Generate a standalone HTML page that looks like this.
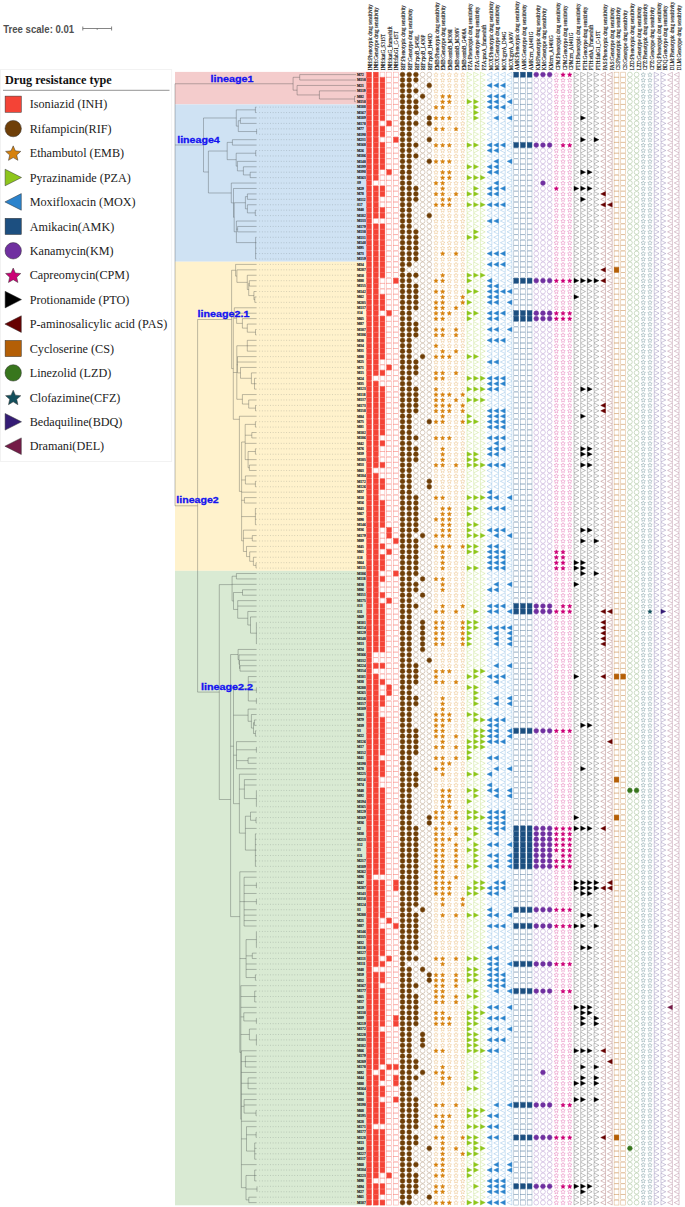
<!DOCTYPE html><html><head><meta charset="utf-8"><style>html,body{margin:0;padding:0;background:#fff;width:685px;height:1207px;overflow:hidden}svg{display:block}</style></head><body>
<svg width="685" height="1207" viewBox="0 0 685 1207">
<text x="3.2" y="32.5" font-family="Liberation Sans" font-weight="bold" font-size="10.4" fill="#505050" textLength="71.0" lengthAdjust="spacingAndGlyphs">Tree scale: 0.01</text>
<g stroke="#666" stroke-width="0.8" fill="none"><path d="M82.8 28.5H111.6M82.8 26.5V30.5M111.6 26.5V30.5M97.2 28.5V29.8"/></g>
<rect x="0.5" y="69.6" width="171.2" height="391.9" fill="#fff" stroke="#efefef" stroke-width="0.8"/>
<text x="5" y="84" font-family="Liberation Serif" font-weight="bold" font-size="12.2" fill="#111">Drug resistance type</text>
<line x1="3" y1="90.3" x2="169.5" y2="90.3" stroke="#777" stroke-width="0.8"/>
<rect x="5.1" y="96.1" width="16.2" height="16.2" fill="#f44336" stroke="#333" stroke-width="0.5"/>
<text x="29.7" y="108.3" font-family="Liberation Serif" font-size="12.2" fill="#222">Isoniazid (INH)</text>
<circle cx="13.2" cy="128.6" r="8.2" fill="#6f3f08" stroke="#333" stroke-width="0.5"/>
<text x="29.7" y="132.7" font-family="Liberation Serif" font-size="12.2" fill="#222">Rifampicin(RIF)</text>
<polygon points="13.20,145.86 15.37,150.87 20.81,151.39 16.72,155.00 17.90,160.33 13.20,157.56 8.50,160.33 9.68,155.00 5.59,151.39 11.03,150.87" fill="#d6820f" stroke="#333" stroke-width="0.5"/>
<text x="29.7" y="157.2" font-family="Liberation Serif" font-size="12.2" fill="#222">Ethambutol (EMB)</text>
<polygon points="5.1,169.2 21.5,177.5 5.1,185.8" fill="#8ec61c" stroke="#333" stroke-width="0.5"/>
<text x="29.7" y="181.6" font-family="Liberation Serif" font-size="12.2" fill="#222">Pyrazinamide (PZA)</text>
<polygon points="21.3,193.6 4.9,201.9 21.3,210.2" fill="#2b83cc" stroke="#333" stroke-width="0.5"/>
<text x="29.7" y="206.0" font-family="Liberation Serif" font-size="12.2" fill="#222">Moxifloxacin (MOX)</text>
<rect x="5.1" y="218.3" width="16.2" height="16.2" fill="#1c4f80" stroke="#333" stroke-width="0.5"/>
<text x="29.7" y="230.5" font-family="Liberation Serif" font-size="12.2" fill="#222">Amikacin(AMK)</text>
<circle cx="13.2" cy="250.8" r="8.2" fill="#7030a0" stroke="#333" stroke-width="0.5"/>
<text x="29.7" y="254.9" font-family="Liberation Serif" font-size="12.2" fill="#222">Kanamycin(KM)</text>
<polygon points="13.20,268.01 15.37,273.02 20.81,273.54 16.72,277.15 17.90,282.48 13.20,279.71 8.50,282.48 9.68,277.15 5.59,273.54 11.03,273.02" fill="#cc0077" stroke="#333" stroke-width="0.5"/>
<text x="29.7" y="279.3" font-family="Liberation Serif" font-size="12.2" fill="#222">Capreomycin(CPM)</text>
<polygon points="5.1,291.3 21.5,299.6 5.1,307.9" fill="#000000" stroke="#333" stroke-width="0.5"/>
<text x="29.7" y="303.7" font-family="Liberation Serif" font-size="12.2" fill="#222">Protionamide (PTO)</text>
<polygon points="21.3,315.8 4.9,324.1 21.3,332.4" fill="#660000" stroke="#333" stroke-width="0.5"/>
<text x="29.7" y="328.2" font-family="Liberation Serif" font-size="12.2" fill="#222">P-aminosalicylic acid (PAS)</text>
<rect x="5.1" y="340.4" width="16.2" height="16.2" fill="#b45f06" stroke="#333" stroke-width="0.5"/>
<text x="29.7" y="352.6" font-family="Liberation Serif" font-size="12.2" fill="#222">Cycloserine (CS)</text>
<circle cx="13.2" cy="372.9" r="8.2" fill="#38761d" stroke="#333" stroke-width="0.5"/>
<text x="29.7" y="377.0" font-family="Liberation Serif" font-size="12.2" fill="#222">Linezolid (LZD)</text>
<polygon points="13.20,390.16 15.37,395.17 20.81,395.69 16.72,399.30 17.90,404.63 13.20,401.86 8.50,404.63 9.68,399.30 5.59,395.69 11.03,395.17" fill="#134f5c" stroke="#333" stroke-width="0.5"/>
<text x="29.7" y="401.5" font-family="Liberation Serif" font-size="12.2" fill="#222">Clofazimine(CFZ)</text>
<polygon points="5.1,413.5 21.5,421.8 5.1,430.1" fill="#351c75" stroke="#333" stroke-width="0.5"/>
<text x="29.7" y="425.9" font-family="Liberation Serif" font-size="12.2" fill="#222">Bedaquiline(BDQ)</text>
<polygon points="21.3,437.9 4.9,446.2 21.3,454.5" fill="#741b47" stroke="#333" stroke-width="0.5"/>
<text x="29.7" y="450.3" font-family="Liberation Serif" font-size="12.2" fill="#222">Dramani(DEL)</text>
<rect x="175" y="71.89" width="191.7" height="32.54" fill="#f4cccc"/>
<rect x="175" y="104.43" width="191.7" height="157.27" fill="#cfe2f3"/>
<rect x="175" y="261.70" width="191.7" height="309.12" fill="#fff2cc"/>
<rect x="175" y="570.81" width="191.7" height="634.50" fill="#d9ead3"/>
<path d="M259.20 107.14H356.50 M259.20 112.56H356.50 M259.20 117.98H356.50 M259.20 123.41H356.50 M259.20 128.83H356.50 M259.20 134.25H356.50 M259.20 139.68H356.50 M259.20 145.10H356.50 M259.20 150.52H356.50 M259.20 155.95H356.50 M259.20 161.37H356.50 M259.20 166.79H356.50 M259.20 172.22H356.50 M259.20 177.64H356.50 M259.20 183.06H356.50 M259.20 188.48H356.50 M259.20 193.91H356.50 M259.20 199.33H356.50 M259.20 204.75H356.50 M259.20 210.18H356.50 M259.20 215.60H356.50 M259.20 221.02H356.50 M259.20 226.45H356.50 M259.20 231.87H356.50 M259.20 237.29H356.50 M259.20 242.72H356.50 M259.20 248.14H356.50 M259.20 253.56H356.50 M259.20 258.98H356.50 M259.20 264.41H356.50 M259.20 269.83H356.50 M259.20 275.25H356.50 M259.20 280.68H356.50 M259.20 286.10H356.50 M259.20 291.52H356.50 M259.20 296.95H356.50 M259.20 302.37H356.50 M259.20 307.79H356.50 M259.20 313.22H356.50 M259.20 318.64H356.50 M259.20 324.06H356.50 M259.20 329.48H356.50 M259.20 334.91H356.50 M259.20 340.33H356.50 M259.20 345.75H356.50 M259.20 351.18H356.50 M259.20 356.60H356.50 M259.20 362.02H356.50 M259.20 367.45H356.50 M259.20 372.87H356.50 M259.20 378.29H356.50 M259.20 383.72H356.50 M259.20 389.14H356.50 M259.20 394.56H356.50 M259.20 399.98H356.50 M259.20 405.41H356.50 M259.20 410.83H356.50 M259.20 416.25H356.50 M259.20 421.68H356.50 M259.20 427.10H356.50 M259.20 432.52H356.50 M259.20 437.95H356.50 M259.20 443.37H356.50 M259.20 448.79H356.50 M259.20 454.22H356.50 M259.20 459.64H356.50 M259.20 465.06H356.50 M259.20 470.48H356.50 M259.20 475.91H356.50 M259.20 481.33H356.50 M259.20 486.75H356.50 M259.20 492.18H356.50 M259.20 497.60H356.50 M259.20 503.02H356.50 M259.20 508.45H356.50 M259.20 513.87H356.50 M259.20 519.29H356.50 M259.20 524.72H356.50 M259.20 530.14H356.50 M259.20 535.56H356.50 M259.20 540.98H356.50 M259.20 546.41H356.50 M259.20 551.83H356.50 M259.20 557.25H356.50 M259.20 562.68H356.50 M259.20 568.10H356.50 M259.20 573.52H356.50 M259.20 578.95H356.50 M259.20 584.37H356.50 M259.20 589.79H356.50 M259.20 595.22H356.50 M259.20 600.64H356.50 M259.20 606.06H356.50 M259.20 611.48H356.50 M259.20 616.91H356.50 M259.20 622.33H356.50 M259.20 627.75H356.50 M259.20 633.18H356.50 M259.20 638.60H356.50 M259.20 644.02H356.50 M259.20 649.45H356.50 M259.20 654.87H356.50 M259.20 660.29H356.50 M259.20 665.72H356.50 M259.20 671.14H356.50 M259.20 676.56H356.50 M259.20 681.98H356.50 M259.20 687.41H356.50 M259.20 692.83H356.50 M259.20 698.25H356.50 M259.20 703.68H356.50 M259.20 709.10H356.50 M259.20 714.52H356.50 M259.20 719.95H356.50 M259.20 725.37H356.50 M259.20 730.79H356.50 M259.20 736.22H356.50 M259.20 741.64H356.50 M259.20 747.06H356.50 M259.20 752.48H356.50 M259.20 757.91H356.50 M259.20 763.33H356.50 M259.20 768.75H356.50 M259.20 774.18H356.50 M259.20 779.60H356.50 M259.20 785.02H356.50 M259.20 790.45H356.50 M259.20 795.87H356.50 M259.20 801.29H356.50 M259.20 806.72H356.50 M259.20 812.14H356.50 M259.20 817.56H356.50 M259.20 822.98H356.50 M259.20 828.41H356.50 M259.20 833.83H356.50 M259.20 839.25H356.50 M259.20 844.68H356.50 M259.20 850.10H356.50 M259.20 855.52H356.50 M259.20 860.95H356.50 M259.20 866.37H356.50 M259.20 871.79H356.50 M259.20 877.22H356.50 M259.20 882.64H356.50 M259.20 888.06H356.50 M259.20 893.48H356.50 M259.20 898.91H356.50 M259.20 904.33H356.50 M259.20 909.75H356.50 M259.20 915.18H356.50 M259.20 920.60H356.50 M259.20 926.02H356.50 M259.20 931.45H356.50 M259.20 936.87H356.50 M259.20 942.29H356.50 M259.20 947.72H356.50 M259.20 953.14H356.50 M259.20 958.56H356.50 M259.20 963.98H356.50 M259.20 969.41H356.50 M259.20 974.83H356.50 M259.20 980.25H356.50 M259.20 985.68H356.50 M259.20 991.10H356.50 M259.20 996.52H356.50 M259.20 1001.95H356.50 M259.20 1007.37H356.50 M259.20 1012.79H356.50 M259.20 1018.22H356.50 M259.20 1023.64H356.50 M259.20 1029.06H356.50 M259.20 1034.48H356.50 M259.20 1039.91H356.50 M259.20 1045.33H356.50 M259.20 1050.75H356.50 M259.20 1056.18H356.50 M259.20 1061.60H356.50 M259.20 1067.02H356.50 M259.20 1072.45H356.50 M259.20 1077.87H356.50 M259.20 1083.29H356.50 M259.20 1088.72H356.50 M259.20 1094.14H356.50 M259.20 1099.56H356.50 M259.20 1104.98H356.50 M259.20 1110.41H356.50 M259.20 1115.83H356.50 M259.20 1121.25H356.50 M259.20 1126.68H356.50 M259.20 1132.10H356.50 M259.20 1137.52H356.50 M259.20 1142.95H356.50 M259.20 1148.37H356.50 M259.20 1153.79H356.50 M259.20 1159.22H356.50 M259.20 1164.64H356.50 M259.20 1170.06H356.50 M259.20 1175.48H356.50 M259.20 1180.91H356.50 M259.20 1186.33H356.50 M259.20 1191.75H356.50 M259.20 1197.18H356.50 M259.20 1202.60H356.50" stroke="#556060" stroke-width="0.8" stroke-dasharray="0.9 1.8" fill="none" opacity="0.33"/>
<path d="M299.70 74.60H356.00 M299.70 80.02H356.00 M299.70 74.60V80.02 M293.10 77.31H299.70 M297.10 85.45H356.00 M319.40 90.87H356.00 M354.50 96.29H356.00 M354.50 101.72H356.00 M354.50 96.29V101.72 M319.40 99.00H354.50 M319.40 90.87V99.00 M297.10 94.94H319.40 M297.10 85.45V94.94 M293.10 90.19H297.10 M293.10 77.31V90.19 M175.00 83.75H293.10 M255.40 107.14H256.60 M255.40 112.56H256.60 M255.40 107.14V112.56 M236.30 109.85H255.40 M240.40 117.98H256.60 M240.40 123.41H256.60 M240.40 117.98V123.41 M238.30 120.70H240.40 M256.60 128.83V134.25 M238.30 131.54H256.60 M238.30 120.70V131.54 M236.30 126.12H238.30 M236.30 109.85V126.12 M203.50 117.98H236.30 M232.40 139.68H256.60 M232.40 145.10H256.60 M232.40 139.68V145.10 M227.20 142.39H232.40 M255.70 150.52H256.60 M255.70 155.95H256.60 M255.70 150.52V155.95 M236.20 153.23H255.70 M237.40 161.37H256.60 M243.40 166.79H256.60 M250.20 172.22H256.60 M250.20 177.64H256.60 M250.20 172.22V177.64 M243.40 174.93H250.20 M243.40 166.79V174.93 M237.40 170.86H243.40 M237.40 161.37V170.86 M236.20 166.11H237.40 M236.20 153.23V166.11 M227.20 159.67H236.20 M227.20 142.39V159.67 M208.40 151.03H227.20 M231.30 183.06H256.60 M233.50 188.48H256.60 M247.40 193.91H256.60 M247.40 199.33H256.60 M247.40 193.91V199.33 M245.40 196.62H247.40 M247.40 204.75H256.60 M255.30 210.18H256.60 M255.30 215.60H256.60 M255.30 210.18V215.60 M247.40 212.89H255.30 M247.40 204.75V212.89 M245.40 208.82H247.40 M245.40 196.62V208.82 M234.20 202.72H245.40 M236.40 221.02H256.60 M237.60 226.45H256.60 M237.60 231.87H256.60 M237.60 226.45V231.87 M236.40 229.16H237.60 M255.60 237.29H256.60 M255.60 242.72H256.60 M255.60 248.14H256.60 M255.60 253.56H256.60 M255.60 258.98H256.60 M255.60 237.29V258.98 M236.40 242.60H255.60 M236.40 221.02V242.60 M234.20 231.81H236.40 M234.20 202.72V231.81 M233.50 217.27H234.20 M233.50 188.48V217.27 M231.30 202.88H233.50 M231.30 183.06V202.88 M208.40 192.97H231.30 M208.40 151.03V192.97 M203.50 172.00H208.40 M203.50 117.98V172.00 M175.00 144.99H203.50 M235.60 264.41H256.60 M236.90 269.83H256.60 M247.30 275.25H256.60 M249.30 280.68H256.60 M249.30 286.10H256.60 M249.30 280.68V286.10 M248.70 283.39H249.30 M253.90 291.52H256.60 M254.80 296.95H256.60 M254.80 302.37H256.60 M254.80 296.95V302.37 M253.90 299.66H254.80 M253.90 291.52V299.66 M248.70 295.59H253.90 M248.70 283.39V295.59 M247.30 289.49H248.70 M247.30 275.25V289.49 M236.90 282.37H247.30 M236.90 269.83V282.37 M235.60 276.10H236.90 M235.60 264.41V276.10 M231.60 270.25H235.60 M234.30 307.79H256.60 M236.60 313.22H256.60 M242.40 318.64H256.60 M247.30 324.06H256.60 M255.50 329.48H256.60 M255.50 334.91H256.60 M255.50 329.48V334.91 M247.30 332.20H255.50 M247.30 324.06V332.20 M242.40 328.13H247.30 M242.40 318.64V328.13 M236.60 323.38H242.40 M236.60 313.22V323.38 M234.30 318.30H236.60 M234.30 307.79V318.30 M233.30 313.05H234.30 M247.30 340.33H256.60 M247.30 345.75H256.60 M247.30 351.18H256.60 M247.30 340.33V351.18 M236.80 345.75H247.30 M237.50 356.60H256.60 M237.50 362.02H256.60 M240.50 367.45H256.60 M251.40 372.87H256.60 M254.50 378.29H256.60 M254.50 383.72H256.60 M254.50 389.14H256.60 M254.50 378.29V389.14 M251.40 383.72H254.50 M251.40 372.87V383.72 M240.50 378.29H251.40 M240.50 367.45V378.29 M237.50 372.87H240.50 M237.50 356.60V372.87 M236.80 364.73H237.50 M242.40 394.56H256.60 M248.70 399.98H256.60 M255.50 405.41H256.60 M255.50 410.83H256.60 M255.50 405.41V410.83 M248.70 408.12H255.50 M248.70 399.98V408.12 M242.40 404.05H248.70 M242.40 394.56V404.05 M236.80 399.31H242.40 M236.80 345.75V399.31 M233.30 372.53H236.80 M239.40 416.25H256.60 M255.40 421.68H256.60 M255.40 427.10H256.60 M255.40 421.68V427.10 M245.20 424.39H255.40 M251.80 432.52H256.60 M251.80 437.95H256.60 M251.80 432.52V437.95 M245.20 435.23H251.80 M245.20 443.37H256.60 M255.40 448.79H256.60 M255.40 454.22H256.60 M255.40 448.79V454.22 M248.10 451.50H255.40 M248.10 459.64H256.60 M249.40 465.06H256.60 M249.40 470.48H256.60 M249.40 465.06V470.48 M248.10 467.77H249.40 M248.10 451.50V467.77 M245.20 459.64H248.10 M245.20 424.39V459.64 M241.60 442.01H245.20 M245.40 475.91H256.60 M255.40 481.33H256.60 M255.40 486.75H256.60 M255.40 481.33V486.75 M245.40 484.04H255.40 M245.40 475.91V484.04 M241.60 479.98H245.40 M241.60 492.18H256.60 M244.40 497.60H256.60 M244.40 503.02H256.60 M244.40 497.60V503.02 M241.60 500.31H244.40 M255.40 508.45H256.60 M255.40 513.87H256.60 M255.40 519.29H256.60 M255.40 524.72H256.60 M255.40 508.45V524.72 M244.10 516.58H255.40 M241.60 516.58H244.10 M243.40 530.14H256.60 M252.30 535.56H256.60 M252.30 540.98H256.60 M252.30 535.56V540.98 M243.40 538.27H252.30 M246.50 546.41H256.60 M249.70 551.83H256.60 M253.40 557.25H256.60 M256.00 562.68H256.60 M256.00 568.10H256.60 M256.00 562.68V568.10 M253.40 565.39H256.00 M253.40 557.25V565.39 M249.70 561.32H253.40 M249.70 551.83V561.32 M246.50 556.58H249.70 M246.50 546.41V556.58 M243.40 551.49H246.50 M243.40 530.14V551.49 M241.60 540.82H243.40 M241.60 442.01V540.82 M239.40 491.41H241.60 M239.40 416.25V491.41 M233.30 419.30H239.40 M233.30 313.05V419.30 M231.60 368.60H233.30 M231.60 270.25V368.60 M197.60 319.50H231.60 M236.40 573.52H256.60 M236.40 578.95H256.60 M236.40 573.52V578.95 M232.10 576.23H236.40 M232.10 584.37H256.60 M242.50 589.79H256.60 M242.50 595.22H256.60 M242.50 589.79V595.22 M233.50 592.50H242.50 M237.70 600.64H256.60 M237.70 606.06H256.60 M247.80 611.48H256.60 M250.50 616.91H256.60 M256.40 622.33H256.60 M256.40 627.75H256.60 M256.40 633.18H256.60 M256.40 638.60H256.60 M256.40 644.02H256.60 M256.40 622.33V644.02 M250.50 633.18H256.40 M250.50 616.91V633.18 M247.80 625.04H250.50 M247.80 611.48V625.04 M237.70 618.26H247.80 M237.70 600.64V618.26 M233.50 609.45H237.70 M233.50 592.50V609.45 M232.10 600.98H233.50 M232.10 576.23V600.98 M219.30 584.60H232.10 M238.10 649.45H256.60 M239.00 654.87H256.60 M239.50 660.29H256.60 M240.00 665.72H256.60 M240.00 671.14H256.60 M240.00 665.72V671.14 M239.50 668.43H240.00 M239.50 660.29V668.43 M239.00 664.36H239.50 M239.00 654.87V664.36 M238.10 659.61H239.00 M238.10 649.45V659.61 M230.60 654.53H238.10 M248.30 676.56H256.60 M248.30 681.98H256.60 M256.40 687.41H256.60 M256.40 692.83H256.60 M256.40 687.41V692.83 M248.30 690.12H256.40 M256.40 698.25H256.60 M256.40 703.68H256.60 M256.40 698.25V703.68 M248.30 700.97H256.40 M248.30 676.56V700.97 M233.50 688.76H248.30 M248.10 709.10H256.60 M251.40 714.52H256.60 M254.40 719.95H256.60 M254.40 725.37H256.60 M254.40 719.95V725.37 M253.50 722.66H254.40 M255.40 730.79H256.60 M255.40 736.22H256.60 M255.40 730.79V736.22 M253.50 733.50H255.40 M253.50 722.66V733.50 M251.40 728.08H253.50 M251.40 714.52V728.08 M248.10 721.30H251.40 M248.10 709.10V721.30 M233.50 715.20H248.10 M236.50 741.64H256.60 M256.40 747.06H256.60 M256.40 752.48H256.60 M256.40 747.06V752.48 M236.50 749.77H256.40 M248.10 757.91H256.60 M248.10 763.33H256.60 M248.10 757.91V763.33 M236.50 760.62H248.10 M236.50 768.75H256.60 M236.50 741.64V768.75 M233.50 755.20H236.50 M239.40 774.18H256.60 M244.40 779.60H256.60 M244.40 785.02H256.60 M256.40 790.45H256.60 M256.40 795.87H256.60 M256.40 801.29H256.60 M256.40 806.72H256.60 M256.40 790.45V806.72 M244.40 798.58H256.40 M244.40 779.60V798.58 M239.40 789.09H244.40 M250.50 812.14H256.60 M256.00 817.56H256.60 M256.00 822.98H256.60 M256.00 817.56V822.98 M250.50 820.27H256.00 M250.50 812.14V820.27 M245.40 816.21H250.50 M245.40 828.41H256.60 M255.40 833.83H256.60 M255.40 839.25H256.60 M255.40 844.68H256.60 M255.40 850.10H256.60 M255.40 855.52H256.60 M255.40 860.95H256.60 M255.40 866.37H256.60 M255.40 833.83V866.37 M245.40 850.10H255.40 M245.40 816.21V850.10 M239.40 833.15H245.40 M239.40 774.18V833.15 M233.50 803.66H239.40 M233.50 688.76V803.66 M230.60 746.21H233.50 M239.80 871.79H256.60 M244.10 877.22H256.60 M256.40 882.64H256.60 M256.40 888.06H256.60 M256.40 882.64V888.06 M244.10 885.35H256.40 M244.10 893.48H256.60 M256.40 898.91H256.60 M256.40 904.33H256.60 M256.40 898.91V904.33 M244.10 901.62H256.40 M244.10 909.75H256.60 M244.10 915.18H256.60 M244.10 920.60H256.60 M244.10 926.02H256.60 M244.10 877.22V926.02 M239.80 901.62H244.10 M256.40 931.45H256.60 M256.40 936.87H256.60 M256.40 942.29H256.60 M256.40 947.72H256.60 M256.40 931.45V947.72 M246.10 939.58H256.40 M252.30 953.14H256.60 M252.30 958.56H256.60 M252.30 953.14V958.56 M246.10 955.85H252.30 M246.10 963.98H256.60 M246.10 969.41H256.60 M255.40 974.83H256.60 M255.40 980.25H256.60 M255.40 974.83V980.25 M246.10 977.54H255.40 M246.10 939.58V977.54 M239.80 958.56H246.10 M240.80 985.68H256.60 M254.70 991.10H256.60 M254.70 996.52H256.60 M254.70 1001.95H256.60 M254.70 991.10V1001.95 M240.80 996.52H254.70 M240.80 1007.37H256.60 M243.80 1012.79H256.60 M256.40 1018.22H256.60 M256.40 1023.64H256.60 M256.40 1018.22V1023.64 M243.80 1020.93H256.40 M243.80 1012.79V1020.93 M240.80 1016.86H243.80 M249.40 1029.06H256.60 M256.40 1034.48H256.60 M256.40 1039.91H256.60 M256.40 1045.33H256.60 M256.40 1034.48V1045.33 M249.40 1039.91H256.40 M249.40 1029.06V1039.91 M240.80 1034.48H249.40 M241.40 1050.75H256.60 M245.40 1056.18H256.60 M245.40 1061.60H256.60 M245.40 1067.02H256.60 M245.40 1056.18V1067.02 M241.40 1061.60H245.40 M241.40 1072.45H256.60 M248.10 1077.87H256.60 M248.10 1083.29H256.60 M248.10 1088.72H256.60 M248.10 1077.87V1088.72 M241.40 1083.29H248.10 M241.40 1094.14H256.60 M244.10 1099.56H256.60 M244.10 1104.98H256.60 M256.00 1110.41H256.60 M256.00 1115.83H256.60 M256.00 1110.41V1115.83 M244.10 1113.12H256.00 M244.10 1099.56V1113.12 M241.40 1106.34H244.10 M241.40 1121.25H256.60 M246.50 1126.68H256.60 M256.10 1132.10H256.60 M256.10 1137.52H256.60 M256.10 1132.10V1137.52 M246.50 1134.81H256.10 M254.70 1142.95H256.60 M254.70 1148.37H256.60 M254.70 1153.79H256.60 M254.70 1159.22H256.60 M254.70 1142.95V1159.22 M246.50 1151.08H254.70 M246.50 1126.68V1151.08 M241.40 1138.88H246.50 M241.40 1164.64H256.60 M254.70 1170.06H256.60 M254.70 1175.48H256.60 M254.70 1180.91H256.60 M254.70 1170.06V1180.91 M246.00 1175.48H254.70 M257.00 1186.33V1191.75 M246.00 1189.04H257.00 M248.80 1197.18H256.60 M248.80 1202.60H256.60 M248.80 1197.18V1202.60 M246.00 1199.89H248.80 M246.00 1175.48V1199.89 M241.40 1187.69H246.00 M241.40 1050.75V1187.69 M240.80 1119.22H241.40 M240.80 985.68V1119.22 M239.80 1052.45H240.80 M239.80 871.79V1052.45 M230.60 916.60H239.80 M230.60 654.53V916.60 M219.30 799.50H230.60 M219.30 584.60V799.50 M197.60 692.10H219.30 M197.6 319.50V692.10 M175 505.80H197.6 M175 83.75V505.80" stroke="#3a4040" stroke-width="0.75" fill="none" stroke-opacity="0.44"/>
<text x="210.5" y="82.1" font-family="Liberation Sans" font-weight="bold" font-size="9.8" fill="#1414f0" stroke="#1414f0" stroke-width="0.3" textLength="43.0" lengthAdjust="spacingAndGlyphs">lineage1</text>
<text x="177.2" y="143.0" font-family="Liberation Sans" font-weight="bold" font-size="9.8" fill="#1414f0" stroke="#1414f0" stroke-width="0.3" textLength="42.6" lengthAdjust="spacingAndGlyphs">lineage4</text>
<text x="197.5" y="316.6" font-family="Liberation Sans" font-weight="bold" font-size="9.8" fill="#1414f0" stroke="#1414f0" stroke-width="0.3" textLength="51.900000000000006" lengthAdjust="spacingAndGlyphs">lineage2.1</text>
<text x="176.3" y="503.0" font-family="Liberation Sans" font-weight="bold" font-size="9.8" fill="#1414f0" stroke="#1414f0" stroke-width="0.3" textLength="42.400000000000006" lengthAdjust="spacingAndGlyphs">lineage2</text>
<text x="201.0" y="690.2" font-family="Liberation Sans" font-weight="bold" font-size="9.8" fill="#1414f0" stroke="#1414f0" stroke-width="0.3" textLength="52.1" lengthAdjust="spacingAndGlyphs">lineage2.2</text>
<g font-family="Liberation Serif" font-weight="bold" font-size="3.6" fill="#111" stroke="#111" stroke-width="0.12">
<text x="356.9" y="75.85">M72</text>
<text x="356.9" y="81.27">M150</text>
<text x="356.9" y="86.70">M21</text>
<text x="356.9" y="92.12">M119</text>
<text x="356.9" y="97.54">M82</text>
<text x="356.9" y="102.97">M158</text>
<text x="356.9" y="108.39">M188</text>
<text x="356.9" y="113.81">M167</text>
<text x="356.9" y="119.23">M189</text>
<text x="356.9" y="124.66">M178</text>
<text x="356.9" y="130.08">M77</text>
<text x="356.9" y="135.50">M198</text>
<text x="356.9" y="140.93">M231</text>
<text x="356.9" y="146.35">M160</text>
<text x="356.9" y="151.77">M26</text>
<text x="356.9" y="157.20">M186</text>
<text x="356.9" y="162.62">M140</text>
<text x="356.9" y="168.04">M199</text>
<text x="356.9" y="173.47">M398</text>
<text x="356.9" y="178.89">M163</text>
<text x="356.9" y="184.31">S9</text>
<text x="356.9" y="189.73">M29</text>
<text x="356.9" y="195.16">M78</text>
<text x="356.9" y="200.58">M112</text>
<text x="356.9" y="206.00">S17</text>
<text x="356.9" y="211.43">M40</text>
<text x="356.9" y="216.85">M182</text>
<text x="356.9" y="222.27">M133</text>
<text x="356.9" y="227.70">M179</text>
<text x="356.9" y="233.12">M130</text>
<text x="356.9" y="238.54">M131</text>
<text x="356.9" y="243.97">M148</text>
<text x="356.9" y="249.39">M95</text>
<text x="356.9" y="254.81">M73</text>
<text x="356.9" y="260.23">M159</text>
<text x="356.9" y="265.66">M34</text>
<text x="356.9" y="271.08">M207</text>
<text x="356.9" y="276.50">M58</text>
<text x="356.9" y="281.93">M88</text>
<text x="356.9" y="287.35">M155</text>
<text x="356.9" y="292.77">M142</text>
<text x="356.9" y="298.20">M62</text>
<text x="356.9" y="303.62">M205</text>
<text x="356.9" y="309.04">M137</text>
<text x="356.9" y="314.47">S14</text>
<text x="356.9" y="319.89">M65</text>
<text x="356.9" y="325.31">M87</text>
<text x="356.9" y="330.73">M107</text>
<text x="356.9" y="336.16">M186</text>
<text x="356.9" y="341.58">M30</text>
<text x="356.9" y="347.00">M34</text>
<text x="356.9" y="352.43">M31</text>
<text x="356.9" y="357.85">M80</text>
<text x="356.9" y="363.27">M25</text>
<text x="356.9" y="368.70">M71</text>
<text x="356.9" y="374.12">M15</text>
<text x="356.9" y="379.54">M24</text>
<text x="356.9" y="384.97">M35</text>
<text x="356.9" y="390.39">M123</text>
<text x="356.9" y="395.81">M118</text>
<text x="356.9" y="401.23">M137</text>
<text x="356.9" y="406.66">M173</text>
<text x="356.9" y="412.08">M158</text>
<text x="356.9" y="417.50">M84</text>
<text x="356.9" y="422.93">M75</text>
<text x="356.9" y="428.35">M81</text>
<text x="356.9" y="433.77">M102</text>
<text x="356.9" y="439.20">M106</text>
<text x="356.9" y="444.62">M42</text>
<text x="356.9" y="450.04">M76</text>
<text x="356.9" y="455.47">M39</text>
<text x="356.9" y="460.89">M105</text>
<text x="356.9" y="466.31">M53</text>
<text x="356.9" y="471.73">M63</text>
<text x="356.9" y="477.16">M184</text>
<text x="356.9" y="482.58">M172</text>
<text x="356.9" y="488.00">M126</text>
<text x="356.9" y="493.43">M37</text>
<text x="356.9" y="498.85">M18</text>
<text x="356.9" y="504.27">M56</text>
<text x="356.9" y="509.70">M43</text>
<text x="356.9" y="515.12">M67</text>
<text x="356.9" y="520.54">M90</text>
<text x="356.9" y="525.97">M146</text>
<text x="356.9" y="531.39">M36</text>
<text x="356.9" y="536.81">M179</text>
<text x="356.9" y="542.23">M89</text>
<text x="356.9" y="547.66">M45</text>
<text x="356.9" y="553.08">M61</text>
<text x="356.9" y="558.50">S18</text>
<text x="356.9" y="563.93">M64</text>
<text x="356.9" y="569.35">M115</text>
<text x="356.9" y="574.77">M186</text>
<text x="356.9" y="580.20">M118</text>
<text x="356.9" y="585.62">M30</text>
<text x="356.9" y="591.04">M86</text>
<text x="356.9" y="596.47">M151</text>
<text x="356.9" y="601.89">M175</text>
<text x="356.9" y="607.31">S13</text>
<text x="356.9" y="612.73">S11</text>
<text x="356.9" y="618.16">M69</text>
<text x="356.9" y="623.58">M181</text>
<text x="356.9" y="629.00">M214</text>
<text x="356.9" y="634.43">M129</text>
<text x="356.9" y="639.85">M148</text>
<text x="356.9" y="645.27">M13</text>
<text x="356.9" y="650.70">M34</text>
<text x="356.9" y="656.12">M166</text>
<text x="356.9" y="661.54">M132</text>
<text x="356.9" y="666.97">M224</text>
<text x="356.9" y="672.39">M154</text>
<text x="356.9" y="677.81">M181</text>
<text x="356.9" y="683.23">M38</text>
<text x="356.9" y="688.66">M208</text>
<text x="356.9" y="694.08">M265</text>
<text x="356.9" y="699.50">M156</text>
<text x="356.9" y="704.93">M157</text>
<text x="356.9" y="710.35">M189</text>
<text x="356.9" y="715.77">M63</text>
<text x="356.9" y="721.20">M79</text>
<text x="356.9" y="726.62">M39</text>
<text x="356.9" y="732.04">S3</text>
<text x="356.9" y="737.47">M22</text>
<text x="356.9" y="742.89">M126</text>
<text x="356.9" y="748.31">M17</text>
<text x="356.9" y="753.73">M152</text>
<text x="356.9" y="759.16">M41</text>
<text x="356.9" y="764.58">M190</text>
<text x="356.9" y="770.00">M78</text>
<text x="356.9" y="775.43">M225</text>
<text x="356.9" y="780.85">M114</text>
<text x="356.9" y="786.27">M74</text>
<text x="356.9" y="791.70">M48</text>
<text x="356.9" y="797.12">M92</text>
<text x="356.9" y="802.54">M194</text>
<text x="356.9" y="807.97">M165</text>
<text x="356.9" y="813.39">M129</text>
<text x="356.9" y="818.81">M169</text>
<text x="356.9" y="824.23">M36</text>
<text x="356.9" y="829.66">S2</text>
<text x="356.9" y="835.08">M38</text>
<text x="356.9" y="840.50">M213</text>
<text x="356.9" y="845.93">S12</text>
<text x="356.9" y="851.35">S5</text>
<text x="356.9" y="856.77">S11</text>
<text x="356.9" y="862.20">M217</text>
<text x="356.9" y="867.62">M189</text>
<text x="356.9" y="873.04">M262</text>
<text x="356.9" y="878.47">M96</text>
<text x="356.9" y="883.89">M47</text>
<text x="356.9" y="889.31">M207</text>
<text x="356.9" y="894.73">M143</text>
<text x="356.9" y="900.16">M158</text>
<text x="356.9" y="905.58">M124</text>
<text x="356.9" y="911.00">S1</text>
<text x="356.9" y="916.43">M208</text>
<text x="356.9" y="921.85">M21</text>
<text x="356.9" y="927.27">M87</text>
<text x="356.9" y="932.70">M146</text>
<text x="356.9" y="938.12">M135</text>
<text x="356.9" y="943.54">M32</text>
<text x="356.9" y="948.97">M110</text>
<text x="356.9" y="954.39">M127</text>
<text x="356.9" y="959.81">M113</text>
<text x="356.9" y="965.23">M111</text>
<text x="356.9" y="970.66">M48</text>
<text x="356.9" y="976.08">M59</text>
<text x="356.9" y="981.50">M52</text>
<text x="356.9" y="986.93">M167</text>
<text x="356.9" y="992.35">M177</text>
<text x="356.9" y="997.77">M65</text>
<text x="356.9" y="1003.20">M57</text>
<text x="356.9" y="1008.62">M19</text>
<text x="356.9" y="1014.04">M138</text>
<text x="356.9" y="1019.47">M89</text>
<text x="356.9" y="1024.89">M219</text>
<text x="356.9" y="1030.31">M172</text>
<text x="356.9" y="1035.73">M220</text>
<text x="356.9" y="1041.16">M185</text>
<text x="356.9" y="1046.58">M182</text>
<text x="356.9" y="1052.00">M66</text>
<text x="356.9" y="1057.43">M179</text>
<text x="356.9" y="1062.85">M209</text>
<text x="356.9" y="1068.27">M170</text>
<text x="356.9" y="1073.70">M92</text>
<text x="356.9" y="1079.12">M44</text>
<text x="356.9" y="1084.54">M88</text>
<text x="356.9" y="1089.97">M164</text>
<text x="356.9" y="1095.39">M84</text>
<text x="356.9" y="1100.81">M88</text>
<text x="356.9" y="1106.23">M198</text>
<text x="356.9" y="1111.66">M68</text>
<text x="356.9" y="1117.08">M195</text>
<text x="356.9" y="1122.50">M28</text>
<text x="356.9" y="1127.93">M171</text>
<text x="356.9" y="1133.35">M177</text>
<text x="356.9" y="1138.77">M128</text>
<text x="356.9" y="1144.20">M13</text>
<text x="356.9" y="1149.62">M49</text>
<text x="356.9" y="1155.04">M227</text>
<text x="356.9" y="1160.47">M117</text>
<text x="356.9" y="1165.89">M68</text>
<text x="356.9" y="1171.31">M184</text>
<text x="356.9" y="1176.73">M223</text>
<text x="356.9" y="1182.16">M98</text>
<text x="356.9" y="1187.58">M94</text>
<text x="356.9" y="1193.00">M27</text>
<text x="356.9" y="1198.43">M61</text>
<text x="356.9" y="1203.85">M187</text>
</g>
<g font-family="Liberation Serif" font-size="5.1" fill="#111" stroke="#111" stroke-width="0.15">
<text transform="translate(371.50,70.3) rotate(-90)">INH:Phenotypic drug sensitivity</text>
<text transform="translate(378.23,70.3) rotate(-90)">INH:Genotype drug sensitivity</text>
<text transform="translate(384.95,70.3) rotate(-90)">INH:katG_S315T</text>
<text transform="translate(391.68,70.3) rotate(-90)">INH:katG_frameshift</text>
<text transform="translate(398.40,70.3) rotate(-90)">INH:fabG1_C-15T</text>
<text transform="translate(405.13,70.3) rotate(-90)">RIF:Phenotypic drug sensitivity</text>
<text transform="translate(411.86,70.3) rotate(-90)">RIF:Genotype drug sensitivity</text>
<text transform="translate(418.58,70.3) rotate(-90)">RIF:rpoB_S450L</text>
<text transform="translate(425.31,70.3) rotate(-90)">RIF:rpoB_L430P</text>
<text transform="translate(432.03,70.3) rotate(-90)">RIF:rpoB_H445D</text>
<text transform="translate(438.76,70.3) rotate(-90)">EMB:Phenotypic drug sensitivity</text>
<text transform="translate(445.49,70.3) rotate(-90)">EMB:Genotype drug sensitivity</text>
<text transform="translate(452.21,70.3) rotate(-90)">EMB:embB_M306I</text>
<text transform="translate(458.94,70.3) rotate(-90)">EMB:embB_M306V</text>
<text transform="translate(465.66,70.3) rotate(-90)">EMB:embB_G406A</text>
<text transform="translate(472.39,70.3) rotate(-90)">PZA:Phenotypic drug sensitivity</text>
<text transform="translate(479.12,70.3) rotate(-90)">PZA:Genotype drug sensitivity</text>
<text transform="translate(485.84,70.3) rotate(-90)">PZA:pncA_frameshift</text>
<text transform="translate(492.57,70.3) rotate(-90)">MOX:Phenotypic drug sensitivity</text>
<text transform="translate(499.29,70.3) rotate(-90)">MOX:Genotype drug sensitivity</text>
<text transform="translate(506.02,70.3) rotate(-90)">MOX:gyrA_D94G</text>
<text transform="translate(512.75,70.3) rotate(-90)">MOX:gyrA_A90V</text>
<text transform="translate(519.47,70.3) rotate(-90)">AMK:Phenotypic drug sensitivity</text>
<text transform="translate(526.20,70.3) rotate(-90)">AMK:Genotype drug sensitivity</text>
<text transform="translate(532.92,70.3) rotate(-90)">AMK:rrs_A1401G</text>
<text transform="translate(539.65,70.3) rotate(-90)">KM:Phenotypic drug sensitivity</text>
<text transform="translate(546.38,70.3) rotate(-90)">KM:Genotype drug sensitivity</text>
<text transform="translate(553.10,70.3) rotate(-90)">KM:rrs_A1401G</text>
<text transform="translate(559.83,70.3) rotate(-90)">CPM:Phenotypic drug sensitivity</text>
<text transform="translate(566.55,70.3) rotate(-90)">CPM:Genotype drug sensitivity</text>
<text transform="translate(573.28,70.3) rotate(-90)">CPM:rrs_A1401G</text>
<text transform="translate(580.01,70.3) rotate(-90)">PTH:Phenotypic drug sensitivity</text>
<text transform="translate(586.73,70.3) rotate(-90)">PTH:Genotype drug sensitivity</text>
<text transform="translate(593.46,70.3) rotate(-90)">PTH:ethA_Frameshift</text>
<text transform="translate(600.18,70.3) rotate(-90)">PTH:fabG1_C-15T</text>
<text transform="translate(606.91,70.3) rotate(-90)">PAS:Phenotypic drug sensitivity</text>
<text transform="translate(613.64,70.3) rotate(-90)">PAS:Genotype drug sensitivity</text>
<text transform="translate(620.36,70.3) rotate(-90)">CS:Phenotypic drug sensitivity</text>
<text transform="translate(627.09,70.3) rotate(-90)">CS:Genotype drug sensitivity</text>
<text transform="translate(633.81,70.3) rotate(-90)">LZD:Phenotypic drug sensitivity</text>
<text transform="translate(640.54,70.3) rotate(-90)">LZD:Genotype drug sensitivity</text>
<text transform="translate(647.27,70.3) rotate(-90)">CFZ:Phenotypic drug sensitivity</text>
<text transform="translate(653.99,70.3) rotate(-90)">CFZ:Genotype drug sensitivity</text>
<text transform="translate(660.72,70.3) rotate(-90)">BDQ:Phenotypic drug sensitivity</text>
<text transform="translate(667.44,70.3) rotate(-90)">BDQ:Genotype drug sensitivity</text>
<text transform="translate(674.17,70.3) rotate(-90)">DLM:Phenotypic drug sensitivity</text>
<text transform="translate(680.90,70.3) rotate(-90)">DLM:Genotype drug sensitivity</text>
</g>
<defs><g id="e0"><rect x="-2.40" y="-2.45" width="4.8" height="4.9" fill="#fff" stroke="#f44336" stroke-opacity="0.55" stroke-width="0.45"/></g><g id="f0"><rect x="-2.40" y="-2.45" width="4.8" height="4.9" fill="#f44336" stroke="#f44336" stroke-width="0.3"/></g><g id="e1"><rect x="-2.40" y="-2.45" width="4.8" height="4.9" fill="#fff" stroke="#f44336" stroke-opacity="0.55" stroke-width="0.45"/></g><g id="f1"><rect x="-2.40" y="-2.45" width="4.8" height="4.9" fill="#f44336" stroke="#f44336" stroke-width="0.3"/></g><g id="e2"><rect x="-2.40" y="-2.45" width="4.8" height="4.9" fill="#fff" stroke="#f44336" stroke-opacity="0.55" stroke-width="0.45"/></g><g id="f2"><rect x="-2.40" y="-2.45" width="4.8" height="4.9" fill="#f44336" stroke="#f44336" stroke-width="0.3"/></g><g id="e3"><rect x="-2.40" y="-2.45" width="4.8" height="4.9" fill="#fff" stroke="#f44336" stroke-opacity="0.55" stroke-width="0.45"/></g><g id="f3"><rect x="-2.40" y="-2.45" width="4.8" height="4.9" fill="#f44336" stroke="#f44336" stroke-width="0.3"/></g><g id="e4"><rect x="-2.40" y="-2.45" width="4.8" height="4.9" fill="#fff" stroke="#f44336" stroke-opacity="0.55" stroke-width="0.45"/></g><g id="f4"><rect x="-2.40" y="-2.45" width="4.8" height="4.9" fill="#f44336" stroke="#f44336" stroke-width="0.3"/></g><g id="e5"><circle cx="0.00" cy="0.00" r="2.4" fill="#fff" stroke="#6f3f08" stroke-opacity="0.55" stroke-width="0.45"/></g><g id="f5"><circle cx="0.00" cy="0.00" r="2.4" fill="#6f3f08" stroke="#6f3f08" stroke-width="0.3"/></g><g id="e6"><circle cx="0.00" cy="0.00" r="2.4" fill="#fff" stroke="#6f3f08" stroke-opacity="0.55" stroke-width="0.45"/></g><g id="f6"><circle cx="0.00" cy="0.00" r="2.4" fill="#6f3f08" stroke="#6f3f08" stroke-width="0.3"/></g><g id="e7"><circle cx="0.00" cy="0.00" r="2.4" fill="#fff" stroke="#6f3f08" stroke-opacity="0.55" stroke-width="0.45"/></g><g id="f7"><circle cx="0.00" cy="0.00" r="2.4" fill="#6f3f08" stroke="#6f3f08" stroke-width="0.3"/></g><g id="e8"><circle cx="0.00" cy="0.00" r="2.4" fill="#fff" stroke="#6f3f08" stroke-opacity="0.55" stroke-width="0.45"/></g><g id="f8"><circle cx="0.00" cy="0.00" r="2.4" fill="#6f3f08" stroke="#6f3f08" stroke-width="0.3"/></g><g id="e9"><circle cx="0.00" cy="0.00" r="2.4" fill="#fff" stroke="#6f3f08" stroke-opacity="0.55" stroke-width="0.45"/></g><g id="f9"><circle cx="0.00" cy="0.00" r="2.4" fill="#6f3f08" stroke="#6f3f08" stroke-width="0.3"/></g><g id="e10"><polygon points="0.00,-2.15 0.65,-0.69 2.23,-0.53 1.05,0.54 1.38,2.10 0.00,1.30 -1.38,2.10 -1.05,0.54 -2.23,-0.53 -0.65,-0.69" fill="#fff" stroke="#d6820f" stroke-opacity="0.55" stroke-width="0.45"/></g><g id="f10"><polygon points="0.00,-2.15 0.65,-0.69 2.23,-0.53 1.05,0.54 1.38,2.10 0.00,1.30 -1.38,2.10 -1.05,0.54 -2.23,-0.53 -0.65,-0.69" fill="#d6820f" stroke="#d6820f" stroke-width="0.3"/></g><g id="e11"><polygon points="0.00,-2.15 0.65,-0.69 2.23,-0.53 1.05,0.54 1.38,2.10 0.00,1.30 -1.38,2.10 -1.05,0.54 -2.23,-0.53 -0.65,-0.69" fill="#fff" stroke="#d6820f" stroke-opacity="0.55" stroke-width="0.45"/></g><g id="f11"><polygon points="0.00,-2.15 0.65,-0.69 2.23,-0.53 1.05,0.54 1.38,2.10 0.00,1.30 -1.38,2.10 -1.05,0.54 -2.23,-0.53 -0.65,-0.69" fill="#d6820f" stroke="#d6820f" stroke-width="0.3"/></g><g id="e12"><polygon points="0.00,-2.15 0.65,-0.69 2.23,-0.53 1.05,0.54 1.38,2.10 0.00,1.30 -1.38,2.10 -1.05,0.54 -2.23,-0.53 -0.65,-0.69" fill="#fff" stroke="#d6820f" stroke-opacity="0.55" stroke-width="0.45"/></g><g id="f12"><polygon points="0.00,-2.15 0.65,-0.69 2.23,-0.53 1.05,0.54 1.38,2.10 0.00,1.30 -1.38,2.10 -1.05,0.54 -2.23,-0.53 -0.65,-0.69" fill="#d6820f" stroke="#d6820f" stroke-width="0.3"/></g><g id="e13"><polygon points="0.00,-2.15 0.65,-0.69 2.23,-0.53 1.05,0.54 1.38,2.10 0.00,1.30 -1.38,2.10 -1.05,0.54 -2.23,-0.53 -0.65,-0.69" fill="#fff" stroke="#d6820f" stroke-opacity="0.55" stroke-width="0.45"/></g><g id="f13"><polygon points="0.00,-2.15 0.65,-0.69 2.23,-0.53 1.05,0.54 1.38,2.10 0.00,1.30 -1.38,2.10 -1.05,0.54 -2.23,-0.53 -0.65,-0.69" fill="#d6820f" stroke="#d6820f" stroke-width="0.3"/></g><g id="e14"><polygon points="0.00,-2.15 0.65,-0.69 2.23,-0.53 1.05,0.54 1.38,2.10 0.00,1.30 -1.38,2.10 -1.05,0.54 -2.23,-0.53 -0.65,-0.69" fill="#fff" stroke="#d6820f" stroke-opacity="0.55" stroke-width="0.45"/></g><g id="f14"><polygon points="0.00,-2.15 0.65,-0.69 2.23,-0.53 1.05,0.54 1.38,2.10 0.00,1.30 -1.38,2.10 -1.05,0.54 -2.23,-0.53 -0.65,-0.69" fill="#d6820f" stroke="#d6820f" stroke-width="0.3"/></g><g id="e15"><polygon points="-2.40,-2.35 2.40,0.00 -2.40,2.35" fill="#fff" stroke="#8ec61c" stroke-opacity="0.55" stroke-width="0.45"/></g><g id="f15"><polygon points="-2.40,-2.35 2.40,0.00 -2.40,2.35" fill="#8ec61c" stroke="#8ec61c" stroke-width="0.3"/></g><g id="e16"><polygon points="-2.40,-2.35 2.40,0.00 -2.40,2.35" fill="#fff" stroke="#8ec61c" stroke-opacity="0.55" stroke-width="0.45"/></g><g id="f16"><polygon points="-2.40,-2.35 2.40,0.00 -2.40,2.35" fill="#8ec61c" stroke="#8ec61c" stroke-width="0.3"/></g><g id="e17"><polygon points="-2.40,-2.35 2.40,0.00 -2.40,2.35" fill="#fff" stroke="#8ec61c" stroke-opacity="0.55" stroke-width="0.45"/></g><g id="f17"><polygon points="-2.40,-2.35 2.40,0.00 -2.40,2.35" fill="#8ec61c" stroke="#8ec61c" stroke-width="0.3"/></g><g id="e18"><polygon points="2.40,-2.35 -2.40,0.00 2.40,2.35" fill="#fff" stroke="#2b83cc" stroke-opacity="0.55" stroke-width="0.45"/></g><g id="f18"><polygon points="2.40,-2.35 -2.40,0.00 2.40,2.35" fill="#2b83cc" stroke="#2b83cc" stroke-width="0.3"/></g><g id="e19"><polygon points="2.40,-2.35 -2.40,0.00 2.40,2.35" fill="#fff" stroke="#2b83cc" stroke-opacity="0.55" stroke-width="0.45"/></g><g id="f19"><polygon points="2.40,-2.35 -2.40,0.00 2.40,2.35" fill="#2b83cc" stroke="#2b83cc" stroke-width="0.3"/></g><g id="e20"><polygon points="2.40,-2.35 -2.40,0.00 2.40,2.35" fill="#fff" stroke="#2b83cc" stroke-opacity="0.55" stroke-width="0.45"/></g><g id="f20"><polygon points="2.40,-2.35 -2.40,0.00 2.40,2.35" fill="#2b83cc" stroke="#2b83cc" stroke-width="0.3"/></g><g id="e21"><polygon points="2.40,-2.35 -2.40,0.00 2.40,2.35" fill="#fff" stroke="#2b83cc" stroke-opacity="0.55" stroke-width="0.45"/></g><g id="f21"><polygon points="2.40,-2.35 -2.40,0.00 2.40,2.35" fill="#2b83cc" stroke="#2b83cc" stroke-width="0.3"/></g><g id="e22"><rect x="-2.40" y="-2.45" width="4.8" height="4.9" fill="#fff" stroke="#1c4f80" stroke-opacity="0.55" stroke-width="0.45"/></g><g id="f22"><rect x="-2.40" y="-2.45" width="4.8" height="4.9" fill="#1c4f80" stroke="#1c4f80" stroke-width="0.3"/></g><g id="e23"><rect x="-2.40" y="-2.45" width="4.8" height="4.9" fill="#fff" stroke="#1c4f80" stroke-opacity="0.55" stroke-width="0.45"/></g><g id="f23"><rect x="-2.40" y="-2.45" width="4.8" height="4.9" fill="#1c4f80" stroke="#1c4f80" stroke-width="0.3"/></g><g id="e24"><rect x="-2.40" y="-2.45" width="4.8" height="4.9" fill="#fff" stroke="#1c4f80" stroke-opacity="0.55" stroke-width="0.45"/></g><g id="f24"><rect x="-2.40" y="-2.45" width="4.8" height="4.9" fill="#1c4f80" stroke="#1c4f80" stroke-width="0.3"/></g><g id="e25"><circle cx="0.00" cy="0.00" r="2.4" fill="#fff" stroke="#7030a0" stroke-opacity="0.55" stroke-width="0.45"/></g><g id="f25"><circle cx="0.00" cy="0.00" r="2.4" fill="#7030a0" stroke="#7030a0" stroke-width="0.3"/></g><g id="e26"><circle cx="0.00" cy="0.00" r="2.4" fill="#fff" stroke="#7030a0" stroke-opacity="0.55" stroke-width="0.45"/></g><g id="f26"><circle cx="0.00" cy="0.00" r="2.4" fill="#7030a0" stroke="#7030a0" stroke-width="0.3"/></g><g id="e27"><circle cx="0.00" cy="0.00" r="2.4" fill="#fff" stroke="#7030a0" stroke-opacity="0.55" stroke-width="0.45"/></g><g id="f27"><circle cx="0.00" cy="0.00" r="2.4" fill="#7030a0" stroke="#7030a0" stroke-width="0.3"/></g><g id="e28"><polygon points="0.00,-2.15 0.65,-0.69 2.23,-0.53 1.05,0.54 1.38,2.10 0.00,1.30 -1.38,2.10 -1.05,0.54 -2.23,-0.53 -0.65,-0.69" fill="#fff" stroke="#cc0077" stroke-opacity="0.55" stroke-width="0.45"/></g><g id="f28"><polygon points="0.00,-2.15 0.65,-0.69 2.23,-0.53 1.05,0.54 1.38,2.10 0.00,1.30 -1.38,2.10 -1.05,0.54 -2.23,-0.53 -0.65,-0.69" fill="#cc0077" stroke="#cc0077" stroke-width="0.3"/></g><g id="e29"><polygon points="0.00,-2.15 0.65,-0.69 2.23,-0.53 1.05,0.54 1.38,2.10 0.00,1.30 -1.38,2.10 -1.05,0.54 -2.23,-0.53 -0.65,-0.69" fill="#fff" stroke="#cc0077" stroke-opacity="0.55" stroke-width="0.45"/></g><g id="f29"><polygon points="0.00,-2.15 0.65,-0.69 2.23,-0.53 1.05,0.54 1.38,2.10 0.00,1.30 -1.38,2.10 -1.05,0.54 -2.23,-0.53 -0.65,-0.69" fill="#cc0077" stroke="#cc0077" stroke-width="0.3"/></g><g id="e30"><polygon points="0.00,-2.15 0.65,-0.69 2.23,-0.53 1.05,0.54 1.38,2.10 0.00,1.30 -1.38,2.10 -1.05,0.54 -2.23,-0.53 -0.65,-0.69" fill="#fff" stroke="#cc0077" stroke-opacity="0.55" stroke-width="0.45"/></g><g id="f30"><polygon points="0.00,-2.15 0.65,-0.69 2.23,-0.53 1.05,0.54 1.38,2.10 0.00,1.30 -1.38,2.10 -1.05,0.54 -2.23,-0.53 -0.65,-0.69" fill="#cc0077" stroke="#cc0077" stroke-width="0.3"/></g><g id="e31"><polygon points="-2.40,-2.35 2.40,0.00 -2.40,2.35" fill="#fff" stroke="#000000" stroke-opacity="0.55" stroke-width="0.45"/></g><g id="f31"><polygon points="-2.40,-2.35 2.40,0.00 -2.40,2.35" fill="#000000" stroke="#000000" stroke-width="0.3"/></g><g id="e32"><polygon points="-2.40,-2.35 2.40,0.00 -2.40,2.35" fill="#fff" stroke="#000000" stroke-opacity="0.55" stroke-width="0.45"/></g><g id="f32"><polygon points="-2.40,-2.35 2.40,0.00 -2.40,2.35" fill="#000000" stroke="#000000" stroke-width="0.3"/></g><g id="e33"><polygon points="-2.40,-2.35 2.40,0.00 -2.40,2.35" fill="#fff" stroke="#000000" stroke-opacity="0.55" stroke-width="0.45"/></g><g id="f33"><polygon points="-2.40,-2.35 2.40,0.00 -2.40,2.35" fill="#000000" stroke="#000000" stroke-width="0.3"/></g><g id="e34"><polygon points="-2.40,-2.35 2.40,0.00 -2.40,2.35" fill="#fff" stroke="#000000" stroke-opacity="0.55" stroke-width="0.45"/></g><g id="f34"><polygon points="-2.40,-2.35 2.40,0.00 -2.40,2.35" fill="#000000" stroke="#000000" stroke-width="0.3"/></g><g id="e35"><polygon points="2.40,-2.35 -2.40,0.00 2.40,2.35" fill="#fff" stroke="#660000" stroke-opacity="0.55" stroke-width="0.45"/></g><g id="f35"><polygon points="2.40,-2.35 -2.40,0.00 2.40,2.35" fill="#660000" stroke="#660000" stroke-width="0.3"/></g><g id="e36"><polygon points="2.40,-2.35 -2.40,0.00 2.40,2.35" fill="#fff" stroke="#660000" stroke-opacity="0.55" stroke-width="0.45"/></g><g id="f36"><polygon points="2.40,-2.35 -2.40,0.00 2.40,2.35" fill="#660000" stroke="#660000" stroke-width="0.3"/></g><g id="e37"><rect x="-2.40" y="-2.45" width="4.8" height="4.9" fill="#fff" stroke="#b45f06" stroke-opacity="0.55" stroke-width="0.45"/></g><g id="f37"><rect x="-2.40" y="-2.45" width="4.8" height="4.9" fill="#b45f06" stroke="#b45f06" stroke-width="0.3"/></g><g id="e38"><rect x="-2.40" y="-2.45" width="4.8" height="4.9" fill="#fff" stroke="#b45f06" stroke-opacity="0.55" stroke-width="0.45"/></g><g id="f38"><rect x="-2.40" y="-2.45" width="4.8" height="4.9" fill="#b45f06" stroke="#b45f06" stroke-width="0.3"/></g><g id="e39"><circle cx="0.00" cy="0.00" r="2.4" fill="#fff" stroke="#38761d" stroke-opacity="0.55" stroke-width="0.45"/></g><g id="f39"><circle cx="0.00" cy="0.00" r="2.4" fill="#38761d" stroke="#38761d" stroke-width="0.3"/></g><g id="e40"><circle cx="0.00" cy="0.00" r="2.4" fill="#fff" stroke="#38761d" stroke-opacity="0.55" stroke-width="0.45"/></g><g id="f40"><circle cx="0.00" cy="0.00" r="2.4" fill="#38761d" stroke="#38761d" stroke-width="0.3"/></g><g id="e41"><polygon points="0.00,-2.15 0.65,-0.69 2.23,-0.53 1.05,0.54 1.38,2.10 0.00,1.30 -1.38,2.10 -1.05,0.54 -2.23,-0.53 -0.65,-0.69" fill="#fff" stroke="#134f5c" stroke-opacity="0.55" stroke-width="0.45"/></g><g id="f41"><polygon points="0.00,-2.15 0.65,-0.69 2.23,-0.53 1.05,0.54 1.38,2.10 0.00,1.30 -1.38,2.10 -1.05,0.54 -2.23,-0.53 -0.65,-0.69" fill="#134f5c" stroke="#134f5c" stroke-width="0.3"/></g><g id="e42"><polygon points="0.00,-2.15 0.65,-0.69 2.23,-0.53 1.05,0.54 1.38,2.10 0.00,1.30 -1.38,2.10 -1.05,0.54 -2.23,-0.53 -0.65,-0.69" fill="#fff" stroke="#134f5c" stroke-opacity="0.55" stroke-width="0.45"/></g><g id="f42"><polygon points="0.00,-2.15 0.65,-0.69 2.23,-0.53 1.05,0.54 1.38,2.10 0.00,1.30 -1.38,2.10 -1.05,0.54 -2.23,-0.53 -0.65,-0.69" fill="#134f5c" stroke="#134f5c" stroke-width="0.3"/></g><g id="e43"><polygon points="-2.40,-2.35 2.40,0.00 -2.40,2.35" fill="#fff" stroke="#351c75" stroke-opacity="0.55" stroke-width="0.45"/></g><g id="f43"><polygon points="-2.40,-2.35 2.40,0.00 -2.40,2.35" fill="#351c75" stroke="#351c75" stroke-width="0.3"/></g><g id="e44"><polygon points="-2.40,-2.35 2.40,0.00 -2.40,2.35" fill="#fff" stroke="#351c75" stroke-opacity="0.55" stroke-width="0.45"/></g><g id="f44"><polygon points="-2.40,-2.35 2.40,0.00 -2.40,2.35" fill="#351c75" stroke="#351c75" stroke-width="0.3"/></g><g id="e45"><polygon points="2.40,-2.35 -2.40,0.00 2.40,2.35" fill="#fff" stroke="#741b47" stroke-opacity="0.55" stroke-width="0.45"/></g><g id="f45"><polygon points="2.40,-2.35 -2.40,0.00 2.40,2.35" fill="#741b47" stroke="#741b47" stroke-width="0.3"/></g><g id="e46"><polygon points="2.40,-2.35 -2.40,0.00 2.40,2.35" fill="#fff" stroke="#741b47" stroke-opacity="0.55" stroke-width="0.45"/></g><g id="f46"><polygon points="2.40,-2.35 -2.40,0.00 2.40,2.35" fill="#741b47" stroke="#741b47" stroke-width="0.3"/></g><g id="R"><use href="#e0" x="369.10"/><use href="#e1" x="375.79"/><use href="#e2" x="382.47"/><use href="#e3" x="389.16"/><use href="#e4" x="395.85"/><use href="#e5" x="402.53"/><use href="#e6" x="409.22"/><use href="#e7" x="415.91"/><use href="#e8" x="422.60"/><use href="#e9" x="429.28"/><use href="#e10" x="435.97"/><use href="#e11" x="442.66"/><use href="#e12" x="449.34"/><use href="#e13" x="456.03"/><use href="#e14" x="462.72"/><use href="#e15" x="469.40"/><use href="#e16" x="476.09"/><use href="#e17" x="482.78"/><use href="#e18" x="489.47"/><use href="#e19" x="496.15"/><use href="#e20" x="502.84"/><use href="#e21" x="509.53"/><use href="#e22" x="516.21"/><use href="#e23" x="522.90"/><use href="#e24" x="529.59"/><use href="#e25" x="536.27"/><use href="#e26" x="542.96"/><use href="#e27" x="549.65"/><use href="#e28" x="556.33"/><use href="#e29" x="563.02"/><use href="#e30" x="569.71"/><use href="#e31" x="576.40"/><use href="#e32" x="583.08"/><use href="#e33" x="589.77"/><use href="#e34" x="596.46"/><use href="#e35" x="603.14"/><use href="#e36" x="609.83"/><use href="#e37" x="616.52"/><use href="#e38" x="623.20"/><use href="#e39" x="629.89"/><use href="#e40" x="636.58"/><use href="#e41" x="643.27"/><use href="#e42" x="649.95"/><use href="#e43" x="656.64"/><use href="#e44" x="663.33"/><use href="#e45" x="670.01"/><use href="#e46" x="676.70"/></g></defs>
<use href="#R" y="74.60"/><use href="#R" y="80.02"/><use href="#R" y="85.45"/><use href="#R" y="90.87"/><use href="#R" y="96.29"/><use href="#R" y="101.72"/><use href="#R" y="107.14"/><use href="#R" y="112.56"/><use href="#R" y="117.98"/><use href="#R" y="123.41"/><use href="#R" y="128.83"/><use href="#R" y="134.25"/><use href="#R" y="139.68"/><use href="#R" y="145.10"/><use href="#R" y="150.52"/><use href="#R" y="155.95"/><use href="#R" y="161.37"/><use href="#R" y="166.79"/><use href="#R" y="172.22"/><use href="#R" y="177.64"/><use href="#R" y="183.06"/><use href="#R" y="188.48"/><use href="#R" y="193.91"/><use href="#R" y="199.33"/><use href="#R" y="204.75"/><use href="#R" y="210.18"/><use href="#R" y="215.60"/><use href="#R" y="221.02"/><use href="#R" y="226.45"/><use href="#R" y="231.87"/><use href="#R" y="237.29"/><use href="#R" y="242.72"/><use href="#R" y="248.14"/><use href="#R" y="253.56"/><use href="#R" y="258.98"/><use href="#R" y="264.41"/><use href="#R" y="269.83"/><use href="#R" y="275.25"/><use href="#R" y="280.68"/><use href="#R" y="286.10"/><use href="#R" y="291.52"/><use href="#R" y="296.95"/><use href="#R" y="302.37"/><use href="#R" y="307.79"/><use href="#R" y="313.22"/><use href="#R" y="318.64"/><use href="#R" y="324.06"/><use href="#R" y="329.48"/><use href="#R" y="334.91"/><use href="#R" y="340.33"/><use href="#R" y="345.75"/><use href="#R" y="351.18"/><use href="#R" y="356.60"/><use href="#R" y="362.02"/><use href="#R" y="367.45"/><use href="#R" y="372.87"/><use href="#R" y="378.29"/><use href="#R" y="383.72"/><use href="#R" y="389.14"/><use href="#R" y="394.56"/><use href="#R" y="399.98"/><use href="#R" y="405.41"/><use href="#R" y="410.83"/><use href="#R" y="416.25"/><use href="#R" y="421.68"/><use href="#R" y="427.10"/><use href="#R" y="432.52"/><use href="#R" y="437.95"/><use href="#R" y="443.37"/><use href="#R" y="448.79"/><use href="#R" y="454.22"/><use href="#R" y="459.64"/><use href="#R" y="465.06"/><use href="#R" y="470.48"/><use href="#R" y="475.91"/><use href="#R" y="481.33"/><use href="#R" y="486.75"/><use href="#R" y="492.18"/><use href="#R" y="497.60"/><use href="#R" y="503.02"/><use href="#R" y="508.45"/><use href="#R" y="513.87"/><use href="#R" y="519.29"/><use href="#R" y="524.72"/><use href="#R" y="530.14"/><use href="#R" y="535.56"/><use href="#R" y="540.98"/><use href="#R" y="546.41"/><use href="#R" y="551.83"/><use href="#R" y="557.25"/><use href="#R" y="562.68"/><use href="#R" y="568.10"/><use href="#R" y="573.52"/><use href="#R" y="578.95"/><use href="#R" y="584.37"/><use href="#R" y="589.79"/><use href="#R" y="595.22"/><use href="#R" y="600.64"/><use href="#R" y="606.06"/><use href="#R" y="611.48"/><use href="#R" y="616.91"/><use href="#R" y="622.33"/><use href="#R" y="627.75"/><use href="#R" y="633.18"/><use href="#R" y="638.60"/><use href="#R" y="644.02"/><use href="#R" y="649.45"/><use href="#R" y="654.87"/><use href="#R" y="660.29"/><use href="#R" y="665.72"/><use href="#R" y="671.14"/><use href="#R" y="676.56"/><use href="#R" y="681.98"/><use href="#R" y="687.41"/><use href="#R" y="692.83"/><use href="#R" y="698.25"/><use href="#R" y="703.68"/><use href="#R" y="709.10"/><use href="#R" y="714.52"/><use href="#R" y="719.95"/><use href="#R" y="725.37"/><use href="#R" y="730.79"/><use href="#R" y="736.22"/><use href="#R" y="741.64"/><use href="#R" y="747.06"/><use href="#R" y="752.48"/><use href="#R" y="757.91"/><use href="#R" y="763.33"/><use href="#R" y="768.75"/><use href="#R" y="774.18"/><use href="#R" y="779.60"/><use href="#R" y="785.02"/><use href="#R" y="790.45"/><use href="#R" y="795.87"/><use href="#R" y="801.29"/><use href="#R" y="806.72"/><use href="#R" y="812.14"/><use href="#R" y="817.56"/><use href="#R" y="822.98"/><use href="#R" y="828.41"/><use href="#R" y="833.83"/><use href="#R" y="839.25"/><use href="#R" y="844.68"/><use href="#R" y="850.10"/><use href="#R" y="855.52"/><use href="#R" y="860.95"/><use href="#R" y="866.37"/><use href="#R" y="871.79"/><use href="#R" y="877.22"/><use href="#R" y="882.64"/><use href="#R" y="888.06"/><use href="#R" y="893.48"/><use href="#R" y="898.91"/><use href="#R" y="904.33"/><use href="#R" y="909.75"/><use href="#R" y="915.18"/><use href="#R" y="920.60"/><use href="#R" y="926.02"/><use href="#R" y="931.45"/><use href="#R" y="936.87"/><use href="#R" y="942.29"/><use href="#R" y="947.72"/><use href="#R" y="953.14"/><use href="#R" y="958.56"/><use href="#R" y="963.98"/><use href="#R" y="969.41"/><use href="#R" y="974.83"/><use href="#R" y="980.25"/><use href="#R" y="985.68"/><use href="#R" y="991.10"/><use href="#R" y="996.52"/><use href="#R" y="1001.95"/><use href="#R" y="1007.37"/><use href="#R" y="1012.79"/><use href="#R" y="1018.22"/><use href="#R" y="1023.64"/><use href="#R" y="1029.06"/><use href="#R" y="1034.48"/><use href="#R" y="1039.91"/><use href="#R" y="1045.33"/><use href="#R" y="1050.75"/><use href="#R" y="1056.18"/><use href="#R" y="1061.60"/><use href="#R" y="1067.02"/><use href="#R" y="1072.45"/><use href="#R" y="1077.87"/><use href="#R" y="1083.29"/><use href="#R" y="1088.72"/><use href="#R" y="1094.14"/><use href="#R" y="1099.56"/><use href="#R" y="1104.98"/><use href="#R" y="1110.41"/><use href="#R" y="1115.83"/><use href="#R" y="1121.25"/><use href="#R" y="1126.68"/><use href="#R" y="1132.10"/><use href="#R" y="1137.52"/><use href="#R" y="1142.95"/><use href="#R" y="1148.37"/><use href="#R" y="1153.79"/><use href="#R" y="1159.22"/><use href="#R" y="1164.64"/><use href="#R" y="1170.06"/><use href="#R" y="1175.48"/><use href="#R" y="1180.91"/><use href="#R" y="1186.33"/><use href="#R" y="1191.75"/><use href="#R" y="1197.18"/><use href="#R" y="1202.60"/>
<use href="#f0" x="369.10" y="74.60"/>
<use href="#f1" x="375.79" y="74.60"/>
<use href="#f5" x="402.53" y="74.60"/>
<use href="#f6" x="409.22" y="74.60"/>
<use href="#f7" x="415.91" y="74.60"/>
<use href="#f22" x="516.21" y="74.60"/>
<use href="#f23" x="522.90" y="74.60"/>
<use href="#f24" x="529.59" y="74.60"/>
<use href="#f25" x="536.27" y="74.60"/>
<use href="#f26" x="542.96" y="74.60"/>
<use href="#f27" x="549.65" y="74.60"/>
<use href="#f29" x="563.02" y="74.60"/>
<use href="#f30" x="569.71" y="74.60"/>
<use href="#f0" x="369.10" y="80.02"/>
<use href="#f1" x="375.79" y="80.02"/>
<use href="#f2" x="382.47" y="80.02"/>
<use href="#f5" x="402.53" y="80.02"/>
<use href="#f6" x="409.22" y="80.02"/>
<use href="#f7" x="415.91" y="80.02"/>
<use href="#f0" x="369.10" y="85.45"/>
<use href="#f1" x="375.79" y="85.45"/>
<use href="#f2" x="382.47" y="85.45"/>
<use href="#f5" x="402.53" y="85.45"/>
<use href="#f6" x="409.22" y="85.45"/>
<use href="#f9" x="429.28" y="85.45"/>
<use href="#f18" x="489.47" y="85.45"/>
<use href="#f19" x="496.15" y="85.45"/>
<use href="#f20" x="502.84" y="85.45"/>
<use href="#f0" x="369.10" y="90.87"/>
<use href="#f1" x="375.79" y="90.87"/>
<use href="#f2" x="382.47" y="90.87"/>
<use href="#f5" x="402.53" y="90.87"/>
<use href="#f6" x="409.22" y="90.87"/>
<use href="#f7" x="415.91" y="90.87"/>
<use href="#f0" x="369.10" y="96.29"/>
<use href="#f1" x="375.79" y="96.29"/>
<use href="#f2" x="382.47" y="96.29"/>
<use href="#f5" x="402.53" y="96.29"/>
<use href="#f6" x="409.22" y="96.29"/>
<use href="#f8" x="422.60" y="96.29"/>
<use href="#f11" x="442.66" y="96.29"/>
<use href="#f12" x="449.34" y="96.29"/>
<use href="#f18" x="489.47" y="96.29"/>
<use href="#f19" x="496.15" y="96.29"/>
<use href="#f20" x="502.84" y="96.29"/>
<use href="#f0" x="369.10" y="101.72"/>
<use href="#f1" x="375.79" y="101.72"/>
<use href="#f2" x="382.47" y="101.72"/>
<use href="#f5" x="402.53" y="101.72"/>
<use href="#f6" x="409.22" y="101.72"/>
<use href="#f7" x="415.91" y="101.72"/>
<use href="#f11" x="442.66" y="101.72"/>
<use href="#f12" x="449.34" y="101.72"/>
<use href="#f15" x="469.40" y="101.72"/>
<use href="#f16" x="476.09" y="101.72"/>
<use href="#f18" x="489.47" y="101.72"/>
<use href="#f19" x="496.15" y="101.72"/>
<use href="#f21" x="509.53" y="101.72"/>
<use href="#f0" x="369.10" y="107.14"/>
<use href="#f1" x="375.79" y="107.14"/>
<use href="#f2" x="382.47" y="107.14"/>
<use href="#f5" x="402.53" y="107.14"/>
<use href="#f6" x="409.22" y="107.14"/>
<use href="#f7" x="415.91" y="107.14"/>
<use href="#f10" x="435.97" y="107.14"/>
<use href="#f11" x="442.66" y="107.14"/>
<use href="#f16" x="476.09" y="107.14"/>
<use href="#f18" x="489.47" y="107.14"/>
<use href="#f19" x="496.15" y="107.14"/>
<use href="#f20" x="502.84" y="107.14"/>
<use href="#f0" x="369.10" y="112.56"/>
<use href="#f1" x="375.79" y="112.56"/>
<use href="#f2" x="382.47" y="112.56"/>
<use href="#f5" x="402.53" y="112.56"/>
<use href="#f6" x="409.22" y="112.56"/>
<use href="#f7" x="415.91" y="112.56"/>
<use href="#f16" x="476.09" y="112.56"/>
<use href="#f0" x="369.10" y="117.98"/>
<use href="#f1" x="375.79" y="117.98"/>
<use href="#f2" x="382.47" y="117.98"/>
<use href="#f5" x="402.53" y="117.98"/>
<use href="#f6" x="409.22" y="117.98"/>
<use href="#f9" x="429.28" y="117.98"/>
<use href="#f10" x="435.97" y="117.98"/>
<use href="#f11" x="442.66" y="117.98"/>
<use href="#f12" x="449.34" y="117.98"/>
<use href="#f16" x="476.09" y="117.98"/>
<use href="#f19" x="496.15" y="117.98"/>
<use href="#f21" x="509.53" y="117.98"/>
<use href="#f32" x="583.08" y="117.98"/>
<use href="#f0" x="369.10" y="123.41"/>
<use href="#f1" x="375.79" y="123.41"/>
<use href="#f3" x="389.16" y="123.41"/>
<use href="#f5" x="402.53" y="123.41"/>
<use href="#f6" x="409.22" y="123.41"/>
<use href="#f7" x="415.91" y="123.41"/>
<use href="#f9" x="429.28" y="123.41"/>
<use href="#f0" x="369.10" y="128.83"/>
<use href="#f1" x="375.79" y="128.83"/>
<use href="#f2" x="382.47" y="128.83"/>
<use href="#f5" x="402.53" y="128.83"/>
<use href="#f6" x="409.22" y="128.83"/>
<use href="#f10" x="435.97" y="128.83"/>
<use href="#f11" x="442.66" y="128.83"/>
<use href="#f13" x="456.03" y="128.83"/>
<use href="#f0" x="369.10" y="134.25"/>
<use href="#f1" x="375.79" y="134.25"/>
<use href="#f2" x="382.47" y="134.25"/>
<use href="#f5" x="402.53" y="134.25"/>
<use href="#f6" x="409.22" y="134.25"/>
<use href="#f0" x="369.10" y="139.68"/>
<use href="#f1" x="375.79" y="139.68"/>
<use href="#f4" x="395.85" y="139.68"/>
<use href="#f5" x="402.53" y="139.68"/>
<use href="#f6" x="409.22" y="139.68"/>
<use href="#f9" x="429.28" y="139.68"/>
<use href="#f32" x="583.08" y="139.68"/>
<use href="#f34" x="596.46" y="139.68"/>
<use href="#f0" x="369.10" y="145.10"/>
<use href="#f1" x="375.79" y="145.10"/>
<use href="#f2" x="382.47" y="145.10"/>
<use href="#f5" x="402.53" y="145.10"/>
<use href="#f6" x="409.22" y="145.10"/>
<use href="#f7" x="415.91" y="145.10"/>
<use href="#f10" x="435.97" y="145.10"/>
<use href="#f11" x="442.66" y="145.10"/>
<use href="#f12" x="449.34" y="145.10"/>
<use href="#f15" x="469.40" y="145.10"/>
<use href="#f16" x="476.09" y="145.10"/>
<use href="#f18" x="489.47" y="145.10"/>
<use href="#f19" x="496.15" y="145.10"/>
<use href="#f20" x="502.84" y="145.10"/>
<use href="#f22" x="516.21" y="145.10"/>
<use href="#f23" x="522.90" y="145.10"/>
<use href="#f24" x="529.59" y="145.10"/>
<use href="#f25" x="536.27" y="145.10"/>
<use href="#f26" x="542.96" y="145.10"/>
<use href="#f27" x="549.65" y="145.10"/>
<use href="#f29" x="563.02" y="145.10"/>
<use href="#f30" x="569.71" y="145.10"/>
<use href="#f0" x="369.10" y="150.52"/>
<use href="#f1" x="375.79" y="150.52"/>
<use href="#f2" x="382.47" y="150.52"/>
<use href="#f5" x="402.53" y="150.52"/>
<use href="#f6" x="409.22" y="150.52"/>
<use href="#f18" x="489.47" y="150.52"/>
<use href="#f19" x="496.15" y="150.52"/>
<use href="#f0" x="369.10" y="155.95"/>
<use href="#f1" x="375.79" y="155.95"/>
<use href="#f2" x="382.47" y="155.95"/>
<use href="#f5" x="402.53" y="155.95"/>
<use href="#f6" x="409.22" y="155.95"/>
<use href="#f7" x="415.91" y="155.95"/>
<use href="#f0" x="369.10" y="161.37"/>
<use href="#f1" x="375.79" y="161.37"/>
<use href="#f2" x="382.47" y="161.37"/>
<use href="#f5" x="402.53" y="161.37"/>
<use href="#f6" x="409.22" y="161.37"/>
<use href="#f9" x="429.28" y="161.37"/>
<use href="#f10" x="435.97" y="161.37"/>
<use href="#f11" x="442.66" y="161.37"/>
<use href="#f12" x="449.34" y="161.37"/>
<use href="#f19" x="496.15" y="161.37"/>
<use href="#f21" x="509.53" y="161.37"/>
<use href="#f0" x="369.10" y="166.79"/>
<use href="#f1" x="375.79" y="166.79"/>
<use href="#f2" x="382.47" y="166.79"/>
<use href="#f5" x="402.53" y="166.79"/>
<use href="#f6" x="409.22" y="166.79"/>
<use href="#f15" x="469.40" y="166.79"/>
<use href="#f16" x="476.09" y="166.79"/>
<use href="#f18" x="489.47" y="166.79"/>
<use href="#f19" x="496.15" y="166.79"/>
<use href="#f0" x="369.10" y="172.22"/>
<use href="#f1" x="375.79" y="172.22"/>
<use href="#f3" x="389.16" y="172.22"/>
<use href="#f5" x="402.53" y="172.22"/>
<use href="#f6" x="409.22" y="172.22"/>
<use href="#f11" x="442.66" y="172.22"/>
<use href="#f12" x="449.34" y="172.22"/>
<use href="#f18" x="489.47" y="172.22"/>
<use href="#f19" x="496.15" y="172.22"/>
<use href="#f32" x="583.08" y="172.22"/>
<use href="#f33" x="589.77" y="172.22"/>
<use href="#f0" x="369.10" y="177.64"/>
<use href="#f1" x="375.79" y="177.64"/>
<use href="#f5" x="402.53" y="177.64"/>
<use href="#f6" x="409.22" y="177.64"/>
<use href="#f11" x="442.66" y="177.64"/>
<use href="#f12" x="449.34" y="177.64"/>
<use href="#f15" x="469.40" y="177.64"/>
<use href="#f16" x="476.09" y="177.64"/>
<use href="#f17" x="482.78" y="177.64"/>
<use href="#f0" x="369.10" y="183.06"/>
<use href="#f5" x="402.53" y="183.06"/>
<use href="#f6" x="409.22" y="183.06"/>
<use href="#f10" x="435.97" y="183.06"/>
<use href="#f11" x="442.66" y="183.06"/>
<use href="#f19" x="496.15" y="183.06"/>
<use href="#f26" x="542.96" y="183.06"/>
<use href="#f0" x="369.10" y="188.48"/>
<use href="#f1" x="375.79" y="188.48"/>
<use href="#f2" x="382.47" y="188.48"/>
<use href="#f5" x="402.53" y="188.48"/>
<use href="#f6" x="409.22" y="188.48"/>
<use href="#f7" x="415.91" y="188.48"/>
<use href="#f11" x="442.66" y="188.48"/>
<use href="#f16" x="476.09" y="188.48"/>
<use href="#f18" x="489.47" y="188.48"/>
<use href="#f19" x="496.15" y="188.48"/>
<use href="#f20" x="502.84" y="188.48"/>
<use href="#f28" x="556.33" y="188.48"/>
<use href="#f31" x="576.40" y="188.48"/>
<use href="#f32" x="583.08" y="188.48"/>
<use href="#f33" x="589.77" y="188.48"/>
<use href="#f0" x="369.10" y="193.91"/>
<use href="#f1" x="375.79" y="193.91"/>
<use href="#f2" x="382.47" y="193.91"/>
<use href="#f5" x="402.53" y="193.91"/>
<use href="#f6" x="409.22" y="193.91"/>
<use href="#f7" x="415.91" y="193.91"/>
<use href="#f10" x="435.97" y="193.91"/>
<use href="#f11" x="442.66" y="193.91"/>
<use href="#f13" x="456.03" y="193.91"/>
<use href="#f15" x="469.40" y="193.91"/>
<use href="#f16" x="476.09" y="193.91"/>
<use href="#f18" x="489.47" y="193.91"/>
<use href="#f19" x="496.15" y="193.91"/>
<use href="#f35" x="603.14" y="193.91"/>
<use href="#f0" x="369.10" y="199.33"/>
<use href="#f1" x="375.79" y="199.33"/>
<use href="#f5" x="402.53" y="199.33"/>
<use href="#f6" x="409.22" y="199.33"/>
<use href="#f7" x="415.91" y="199.33"/>
<use href="#f11" x="442.66" y="199.33"/>
<use href="#f12" x="449.34" y="199.33"/>
<use href="#f32" x="583.08" y="199.33"/>
<use href="#f0" x="369.10" y="204.75"/>
<use href="#f1" x="375.79" y="204.75"/>
<use href="#f5" x="402.53" y="204.75"/>
<use href="#f6" x="409.22" y="204.75"/>
<use href="#f10" x="435.97" y="204.75"/>
<use href="#f11" x="442.66" y="204.75"/>
<use href="#f12" x="449.34" y="204.75"/>
<use href="#f15" x="469.40" y="204.75"/>
<use href="#f16" x="476.09" y="204.75"/>
<use href="#f17" x="482.78" y="204.75"/>
<use href="#f18" x="489.47" y="204.75"/>
<use href="#f19" x="496.15" y="204.75"/>
<use href="#f20" x="502.84" y="204.75"/>
<use href="#f35" x="603.14" y="204.75"/>
<use href="#f36" x="609.83" y="204.75"/>
<use href="#f0" x="369.10" y="210.18"/>
<use href="#f1" x="375.79" y="210.18"/>
<use href="#f2" x="382.47" y="210.18"/>
<use href="#f5" x="402.53" y="210.18"/>
<use href="#f6" x="409.22" y="210.18"/>
<use href="#f0" x="369.10" y="215.60"/>
<use href="#f1" x="375.79" y="215.60"/>
<use href="#f2" x="382.47" y="215.60"/>
<use href="#f5" x="402.53" y="215.60"/>
<use href="#f6" x="409.22" y="215.60"/>
<use href="#f9" x="429.28" y="215.60"/>
<use href="#f0" x="369.10" y="221.02"/>
<use href="#f5" x="402.53" y="221.02"/>
<use href="#f6" x="409.22" y="221.02"/>
<use href="#f18" x="489.47" y="221.02"/>
<use href="#f19" x="496.15" y="221.02"/>
<use href="#f0" x="369.10" y="226.45"/>
<use href="#f1" x="375.79" y="226.45"/>
<use href="#f2" x="382.47" y="226.45"/>
<use href="#f5" x="402.53" y="226.45"/>
<use href="#f6" x="409.22" y="226.45"/>
<use href="#f0" x="369.10" y="231.87"/>
<use href="#f1" x="375.79" y="231.87"/>
<use href="#f2" x="382.47" y="231.87"/>
<use href="#f5" x="402.53" y="231.87"/>
<use href="#f6" x="409.22" y="231.87"/>
<use href="#f7" x="415.91" y="231.87"/>
<use href="#f16" x="476.09" y="231.87"/>
<use href="#f0" x="369.10" y="237.29"/>
<use href="#f1" x="375.79" y="237.29"/>
<use href="#f2" x="382.47" y="237.29"/>
<use href="#f5" x="402.53" y="237.29"/>
<use href="#f6" x="409.22" y="237.29"/>
<use href="#f7" x="415.91" y="237.29"/>
<use href="#f15" x="469.40" y="237.29"/>
<use href="#f16" x="476.09" y="237.29"/>
<use href="#f0" x="369.10" y="242.72"/>
<use href="#f1" x="375.79" y="242.72"/>
<use href="#f2" x="382.47" y="242.72"/>
<use href="#f5" x="402.53" y="242.72"/>
<use href="#f6" x="409.22" y="242.72"/>
<use href="#f7" x="415.91" y="242.72"/>
<use href="#f0" x="369.10" y="248.14"/>
<use href="#f1" x="375.79" y="248.14"/>
<use href="#f2" x="382.47" y="248.14"/>
<use href="#f5" x="402.53" y="248.14"/>
<use href="#f6" x="409.22" y="248.14"/>
<use href="#f7" x="415.91" y="248.14"/>
<use href="#f0" x="369.10" y="253.56"/>
<use href="#f1" x="375.79" y="253.56"/>
<use href="#f2" x="382.47" y="253.56"/>
<use href="#f5" x="402.53" y="253.56"/>
<use href="#f6" x="409.22" y="253.56"/>
<use href="#f7" x="415.91" y="253.56"/>
<use href="#f11" x="442.66" y="253.56"/>
<use href="#f13" x="456.03" y="253.56"/>
<use href="#f18" x="489.47" y="253.56"/>
<use href="#f19" x="496.15" y="253.56"/>
<use href="#f20" x="502.84" y="253.56"/>
<use href="#f0" x="369.10" y="258.98"/>
<use href="#f1" x="375.79" y="258.98"/>
<use href="#f2" x="382.47" y="258.98"/>
<use href="#f5" x="402.53" y="258.98"/>
<use href="#f6" x="409.22" y="258.98"/>
<use href="#f7" x="415.91" y="258.98"/>
<use href="#f0" x="369.10" y="264.41"/>
<use href="#f1" x="375.79" y="264.41"/>
<use href="#f2" x="382.47" y="264.41"/>
<use href="#f5" x="402.53" y="264.41"/>
<use href="#f6" x="409.22" y="264.41"/>
<use href="#f18" x="489.47" y="264.41"/>
<use href="#f19" x="496.15" y="264.41"/>
<use href="#f20" x="502.84" y="264.41"/>
<use href="#f0" x="369.10" y="269.83"/>
<use href="#f1" x="375.79" y="269.83"/>
<use href="#f2" x="382.47" y="269.83"/>
<use href="#f5" x="402.53" y="269.83"/>
<use href="#f35" x="603.14" y="269.83"/>
<use href="#f37" x="616.52" y="269.83"/>
<use href="#f0" x="369.10" y="275.25"/>
<use href="#f1" x="375.79" y="275.25"/>
<use href="#f2" x="382.47" y="275.25"/>
<use href="#f5" x="402.53" y="275.25"/>
<use href="#f6" x="409.22" y="275.25"/>
<use href="#f7" x="415.91" y="275.25"/>
<use href="#f11" x="442.66" y="275.25"/>
<use href="#f15" x="469.40" y="275.25"/>
<use href="#f16" x="476.09" y="275.25"/>
<use href="#f17" x="482.78" y="275.25"/>
<use href="#f0" x="369.10" y="280.68"/>
<use href="#f1" x="375.79" y="280.68"/>
<use href="#f4" x="395.85" y="280.68"/>
<use href="#f5" x="402.53" y="280.68"/>
<use href="#f6" x="409.22" y="280.68"/>
<use href="#f10" x="435.97" y="280.68"/>
<use href="#f11" x="442.66" y="280.68"/>
<use href="#f15" x="469.40" y="280.68"/>
<use href="#f18" x="489.47" y="280.68"/>
<use href="#f22" x="516.21" y="280.68"/>
<use href="#f23" x="522.90" y="280.68"/>
<use href="#f24" x="529.59" y="280.68"/>
<use href="#f25" x="536.27" y="280.68"/>
<use href="#f26" x="542.96" y="280.68"/>
<use href="#f27" x="549.65" y="280.68"/>
<use href="#f28" x="556.33" y="280.68"/>
<use href="#f29" x="563.02" y="280.68"/>
<use href="#f30" x="569.71" y="280.68"/>
<use href="#f31" x="576.40" y="280.68"/>
<use href="#f32" x="583.08" y="280.68"/>
<use href="#f33" x="589.77" y="280.68"/>
<use href="#f34" x="596.46" y="280.68"/>
<use href="#f35" x="603.14" y="280.68"/>
<use href="#f0" x="369.10" y="286.10"/>
<use href="#f1" x="375.79" y="286.10"/>
<use href="#f5" x="402.53" y="286.10"/>
<use href="#f6" x="409.22" y="286.10"/>
<use href="#f7" x="415.91" y="286.10"/>
<use href="#f18" x="489.47" y="286.10"/>
<use href="#f19" x="496.15" y="286.10"/>
<use href="#f0" x="369.10" y="291.52"/>
<use href="#f1" x="375.79" y="291.52"/>
<use href="#f5" x="402.53" y="291.52"/>
<use href="#f6" x="409.22" y="291.52"/>
<use href="#f7" x="415.91" y="291.52"/>
<use href="#f10" x="435.97" y="291.52"/>
<use href="#f11" x="442.66" y="291.52"/>
<use href="#f15" x="469.40" y="291.52"/>
<use href="#f16" x="476.09" y="291.52"/>
<use href="#f18" x="489.47" y="291.52"/>
<use href="#f19" x="496.15" y="291.52"/>
<use href="#f20" x="502.84" y="291.52"/>
<use href="#f21" x="509.53" y="291.52"/>
<use href="#f0" x="369.10" y="296.95"/>
<use href="#f1" x="375.79" y="296.95"/>
<use href="#f2" x="382.47" y="296.95"/>
<use href="#f5" x="402.53" y="296.95"/>
<use href="#f6" x="409.22" y="296.95"/>
<use href="#f7" x="415.91" y="296.95"/>
<use href="#f11" x="442.66" y="296.95"/>
<use href="#f14" x="462.72" y="296.95"/>
<use href="#f18" x="489.47" y="296.95"/>
<use href="#f19" x="496.15" y="296.95"/>
<use href="#f31" x="576.40" y="296.95"/>
<use href="#f0" x="369.10" y="302.37"/>
<use href="#f1" x="375.79" y="302.37"/>
<use href="#f2" x="382.47" y="302.37"/>
<use href="#f5" x="402.53" y="302.37"/>
<use href="#f6" x="409.22" y="302.37"/>
<use href="#f7" x="415.91" y="302.37"/>
<use href="#f10" x="435.97" y="302.37"/>
<use href="#f11" x="442.66" y="302.37"/>
<use href="#f14" x="462.72" y="302.37"/>
<use href="#f15" x="469.40" y="302.37"/>
<use href="#f18" x="489.47" y="302.37"/>
<use href="#f19" x="496.15" y="302.37"/>
<use href="#f21" x="509.53" y="302.37"/>
<use href="#f0" x="369.10" y="307.79"/>
<use href="#f1" x="375.79" y="307.79"/>
<use href="#f2" x="382.47" y="307.79"/>
<use href="#f5" x="402.53" y="307.79"/>
<use href="#f6" x="409.22" y="307.79"/>
<use href="#f7" x="415.91" y="307.79"/>
<use href="#f10" x="435.97" y="307.79"/>
<use href="#f11" x="442.66" y="307.79"/>
<use href="#f13" x="456.03" y="307.79"/>
<use href="#f0" x="369.10" y="313.22"/>
<use href="#f1" x="375.79" y="313.22"/>
<use href="#f3" x="389.16" y="313.22"/>
<use href="#f5" x="402.53" y="313.22"/>
<use href="#f6" x="409.22" y="313.22"/>
<use href="#f10" x="435.97" y="313.22"/>
<use href="#f11" x="442.66" y="313.22"/>
<use href="#f12" x="449.34" y="313.22"/>
<use href="#f15" x="469.40" y="313.22"/>
<use href="#f16" x="476.09" y="313.22"/>
<use href="#f18" x="489.47" y="313.22"/>
<use href="#f19" x="496.15" y="313.22"/>
<use href="#f20" x="502.84" y="313.22"/>
<use href="#f22" x="516.21" y="313.22"/>
<use href="#f23" x="522.90" y="313.22"/>
<use href="#f24" x="529.59" y="313.22"/>
<use href="#f25" x="536.27" y="313.22"/>
<use href="#f26" x="542.96" y="313.22"/>
<use href="#f27" x="549.65" y="313.22"/>
<use href="#f28" x="556.33" y="313.22"/>
<use href="#f29" x="563.02" y="313.22"/>
<use href="#f30" x="569.71" y="313.22"/>
<use href="#f0" x="369.10" y="318.64"/>
<use href="#f1" x="375.79" y="318.64"/>
<use href="#f2" x="382.47" y="318.64"/>
<use href="#f5" x="402.53" y="318.64"/>
<use href="#f6" x="409.22" y="318.64"/>
<use href="#f10" x="435.97" y="318.64"/>
<use href="#f11" x="442.66" y="318.64"/>
<use href="#f15" x="469.40" y="318.64"/>
<use href="#f18" x="489.47" y="318.64"/>
<use href="#f19" x="496.15" y="318.64"/>
<use href="#f22" x="516.21" y="318.64"/>
<use href="#f23" x="522.90" y="318.64"/>
<use href="#f24" x="529.59" y="318.64"/>
<use href="#f25" x="536.27" y="318.64"/>
<use href="#f26" x="542.96" y="318.64"/>
<use href="#f27" x="549.65" y="318.64"/>
<use href="#f28" x="556.33" y="318.64"/>
<use href="#f29" x="563.02" y="318.64"/>
<use href="#f30" x="569.71" y="318.64"/>
<use href="#f0" x="369.10" y="324.06"/>
<use href="#f1" x="375.79" y="324.06"/>
<use href="#f2" x="382.47" y="324.06"/>
<use href="#f5" x="402.53" y="324.06"/>
<use href="#f6" x="409.22" y="324.06"/>
<use href="#f7" x="415.91" y="324.06"/>
<use href="#f0" x="369.10" y="329.48"/>
<use href="#f1" x="375.79" y="329.48"/>
<use href="#f2" x="382.47" y="329.48"/>
<use href="#f5" x="402.53" y="329.48"/>
<use href="#f6" x="409.22" y="329.48"/>
<use href="#f7" x="415.91" y="329.48"/>
<use href="#f10" x="435.97" y="329.48"/>
<use href="#f11" x="442.66" y="329.48"/>
<use href="#f13" x="456.03" y="329.48"/>
<use href="#f18" x="489.47" y="329.48"/>
<use href="#f19" x="496.15" y="329.48"/>
<use href="#f21" x="509.53" y="329.48"/>
<use href="#f0" x="369.10" y="334.91"/>
<use href="#f1" x="375.79" y="334.91"/>
<use href="#f2" x="382.47" y="334.91"/>
<use href="#f5" x="402.53" y="334.91"/>
<use href="#f6" x="409.22" y="334.91"/>
<use href="#f7" x="415.91" y="334.91"/>
<use href="#f10" x="435.97" y="334.91"/>
<use href="#f11" x="442.66" y="334.91"/>
<use href="#f13" x="456.03" y="334.91"/>
<use href="#f0" x="369.10" y="340.33"/>
<use href="#f1" x="375.79" y="340.33"/>
<use href="#f2" x="382.47" y="340.33"/>
<use href="#f5" x="402.53" y="340.33"/>
<use href="#f6" x="409.22" y="340.33"/>
<use href="#f18" x="489.47" y="340.33"/>
<use href="#f19" x="496.15" y="340.33"/>
<use href="#f20" x="502.84" y="340.33"/>
<use href="#f0" x="369.10" y="345.75"/>
<use href="#f1" x="375.79" y="345.75"/>
<use href="#f2" x="382.47" y="345.75"/>
<use href="#f5" x="402.53" y="345.75"/>
<use href="#f6" x="409.22" y="345.75"/>
<use href="#f10" x="435.97" y="345.75"/>
<use href="#f0" x="369.10" y="351.18"/>
<use href="#f1" x="375.79" y="351.18"/>
<use href="#f2" x="382.47" y="351.18"/>
<use href="#f5" x="402.53" y="351.18"/>
<use href="#f6" x="409.22" y="351.18"/>
<use href="#f11" x="442.66" y="351.18"/>
<use href="#f13" x="456.03" y="351.18"/>
<use href="#f0" x="369.10" y="356.60"/>
<use href="#f1" x="375.79" y="356.60"/>
<use href="#f2" x="382.47" y="356.60"/>
<use href="#f5" x="402.53" y="356.60"/>
<use href="#f6" x="409.22" y="356.60"/>
<use href="#f8" x="422.60" y="356.60"/>
<use href="#f10" x="435.97" y="356.60"/>
<use href="#f11" x="442.66" y="356.60"/>
<use href="#f12" x="449.34" y="356.60"/>
<use href="#f15" x="469.40" y="356.60"/>
<use href="#f16" x="476.09" y="356.60"/>
<use href="#f0" x="369.10" y="362.02"/>
<use href="#f1" x="375.79" y="362.02"/>
<use href="#f5" x="402.53" y="362.02"/>
<use href="#f6" x="409.22" y="362.02"/>
<use href="#f7" x="415.91" y="362.02"/>
<use href="#f18" x="489.47" y="362.02"/>
<use href="#f19" x="496.15" y="362.02"/>
<use href="#f0" x="369.10" y="367.45"/>
<use href="#f1" x="375.79" y="367.45"/>
<use href="#f3" x="389.16" y="367.45"/>
<use href="#f5" x="402.53" y="367.45"/>
<use href="#f6" x="409.22" y="367.45"/>
<use href="#f7" x="415.91" y="367.45"/>
<use href="#f0" x="369.10" y="372.87"/>
<use href="#f1" x="375.79" y="372.87"/>
<use href="#f2" x="382.47" y="372.87"/>
<use href="#f5" x="402.53" y="372.87"/>
<use href="#f6" x="409.22" y="372.87"/>
<use href="#f7" x="415.91" y="372.87"/>
<use href="#f10" x="435.97" y="372.87"/>
<use href="#f11" x="442.66" y="372.87"/>
<use href="#f13" x="456.03" y="372.87"/>
<use href="#f0" x="369.10" y="378.29"/>
<use href="#f5" x="402.53" y="378.29"/>
<use href="#f6" x="409.22" y="378.29"/>
<use href="#f10" x="435.97" y="378.29"/>
<use href="#f11" x="442.66" y="378.29"/>
<use href="#f15" x="469.40" y="378.29"/>
<use href="#f16" x="476.09" y="378.29"/>
<use href="#f17" x="482.78" y="378.29"/>
<use href="#f18" x="489.47" y="378.29"/>
<use href="#f19" x="496.15" y="378.29"/>
<use href="#f20" x="502.84" y="378.29"/>
<use href="#f0" x="369.10" y="383.72"/>
<use href="#f1" x="375.79" y="383.72"/>
<use href="#f5" x="402.53" y="383.72"/>
<use href="#f6" x="409.22" y="383.72"/>
<use href="#f18" x="489.47" y="383.72"/>
<use href="#f19" x="496.15" y="383.72"/>
<use href="#f20" x="502.84" y="383.72"/>
<use href="#f0" x="369.10" y="389.14"/>
<use href="#f1" x="375.79" y="389.14"/>
<use href="#f2" x="382.47" y="389.14"/>
<use href="#f5" x="402.53" y="389.14"/>
<use href="#f6" x="409.22" y="389.14"/>
<use href="#f7" x="415.91" y="389.14"/>
<use href="#f10" x="435.97" y="389.14"/>
<use href="#f15" x="469.40" y="389.14"/>
<use href="#f16" x="476.09" y="389.14"/>
<use href="#f17" x="482.78" y="389.14"/>
<use href="#f18" x="489.47" y="389.14"/>
<use href="#f19" x="496.15" y="389.14"/>
<use href="#f32" x="583.08" y="389.14"/>
<use href="#f33" x="589.77" y="389.14"/>
<use href="#f0" x="369.10" y="394.56"/>
<use href="#f1" x="375.79" y="394.56"/>
<use href="#f2" x="382.47" y="394.56"/>
<use href="#f5" x="402.53" y="394.56"/>
<use href="#f6" x="409.22" y="394.56"/>
<use href="#f7" x="415.91" y="394.56"/>
<use href="#f10" x="435.97" y="394.56"/>
<use href="#f11" x="442.66" y="394.56"/>
<use href="#f12" x="449.34" y="394.56"/>
<use href="#f14" x="462.72" y="394.56"/>
<use href="#f0" x="369.10" y="399.98"/>
<use href="#f1" x="375.79" y="399.98"/>
<use href="#f2" x="382.47" y="399.98"/>
<use href="#f5" x="402.53" y="399.98"/>
<use href="#f6" x="409.22" y="399.98"/>
<use href="#f7" x="415.91" y="399.98"/>
<use href="#f10" x="435.97" y="399.98"/>
<use href="#f11" x="442.66" y="399.98"/>
<use href="#f13" x="456.03" y="399.98"/>
<use href="#f15" x="469.40" y="399.98"/>
<use href="#f16" x="476.09" y="399.98"/>
<use href="#f17" x="482.78" y="399.98"/>
<use href="#f0" x="369.10" y="405.41"/>
<use href="#f1" x="375.79" y="405.41"/>
<use href="#f2" x="382.47" y="405.41"/>
<use href="#f5" x="402.53" y="405.41"/>
<use href="#f6" x="409.22" y="405.41"/>
<use href="#f7" x="415.91" y="405.41"/>
<use href="#f10" x="435.97" y="405.41"/>
<use href="#f11" x="442.66" y="405.41"/>
<use href="#f12" x="449.34" y="405.41"/>
<use href="#f14" x="462.72" y="405.41"/>
<use href="#f35" x="603.14" y="405.41"/>
<use href="#f0" x="369.10" y="410.83"/>
<use href="#f1" x="375.79" y="410.83"/>
<use href="#f2" x="382.47" y="410.83"/>
<use href="#f5" x="402.53" y="410.83"/>
<use href="#f6" x="409.22" y="410.83"/>
<use href="#f7" x="415.91" y="410.83"/>
<use href="#f10" x="435.97" y="410.83"/>
<use href="#f11" x="442.66" y="410.83"/>
<use href="#f12" x="449.34" y="410.83"/>
<use href="#f14" x="462.72" y="410.83"/>
<use href="#f18" x="489.47" y="410.83"/>
<use href="#f19" x="496.15" y="410.83"/>
<use href="#f20" x="502.84" y="410.83"/>
<use href="#f35" x="603.14" y="410.83"/>
<use href="#f0" x="369.10" y="416.25"/>
<use href="#f1" x="375.79" y="416.25"/>
<use href="#f2" x="382.47" y="416.25"/>
<use href="#f5" x="402.53" y="416.25"/>
<use href="#f6" x="409.22" y="416.25"/>
<use href="#f11" x="442.66" y="416.25"/>
<use href="#f15" x="469.40" y="416.25"/>
<use href="#f18" x="489.47" y="416.25"/>
<use href="#f19" x="496.15" y="416.25"/>
<use href="#f20" x="502.84" y="416.25"/>
<use href="#f32" x="583.08" y="416.25"/>
<use href="#f0" x="369.10" y="421.68"/>
<use href="#f1" x="375.79" y="421.68"/>
<use href="#f2" x="382.47" y="421.68"/>
<use href="#f5" x="402.53" y="421.68"/>
<use href="#f6" x="409.22" y="421.68"/>
<use href="#f9" x="429.28" y="421.68"/>
<use href="#f10" x="435.97" y="421.68"/>
<use href="#f11" x="442.66" y="421.68"/>
<use href="#f14" x="462.72" y="421.68"/>
<use href="#f15" x="469.40" y="421.68"/>
<use href="#f16" x="476.09" y="421.68"/>
<use href="#f18" x="489.47" y="421.68"/>
<use href="#f19" x="496.15" y="421.68"/>
<use href="#f20" x="502.84" y="421.68"/>
<use href="#f0" x="369.10" y="427.10"/>
<use href="#f1" x="375.79" y="427.10"/>
<use href="#f2" x="382.47" y="427.10"/>
<use href="#f5" x="402.53" y="427.10"/>
<use href="#f6" x="409.22" y="427.10"/>
<use href="#f18" x="489.47" y="427.10"/>
<use href="#f19" x="496.15" y="427.10"/>
<use href="#f20" x="502.84" y="427.10"/>
<use href="#f0" x="369.10" y="432.52"/>
<use href="#f1" x="375.79" y="432.52"/>
<use href="#f2" x="382.47" y="432.52"/>
<use href="#f5" x="402.53" y="432.52"/>
<use href="#f6" x="409.22" y="432.52"/>
<use href="#f0" x="369.10" y="437.95"/>
<use href="#f1" x="375.79" y="437.95"/>
<use href="#f5" x="402.53" y="437.95"/>
<use href="#f6" x="409.22" y="437.95"/>
<use href="#f7" x="415.91" y="437.95"/>
<use href="#f10" x="435.97" y="437.95"/>
<use href="#f11" x="442.66" y="437.95"/>
<use href="#f12" x="449.34" y="437.95"/>
<use href="#f18" x="489.47" y="437.95"/>
<use href="#f19" x="496.15" y="437.95"/>
<use href="#f20" x="502.84" y="437.95"/>
<use href="#f0" x="369.10" y="443.37"/>
<use href="#f1" x="375.79" y="443.37"/>
<use href="#f2" x="382.47" y="443.37"/>
<use href="#f5" x="402.53" y="443.37"/>
<use href="#f6" x="409.22" y="443.37"/>
<use href="#f19" x="496.15" y="443.37"/>
<use href="#f0" x="369.10" y="448.79"/>
<use href="#f1" x="375.79" y="448.79"/>
<use href="#f5" x="402.53" y="448.79"/>
<use href="#f6" x="409.22" y="448.79"/>
<use href="#f7" x="415.91" y="448.79"/>
<use href="#f11" x="442.66" y="448.79"/>
<use href="#f18" x="489.47" y="448.79"/>
<use href="#f19" x="496.15" y="448.79"/>
<use href="#f20" x="502.84" y="448.79"/>
<use href="#f32" x="583.08" y="448.79"/>
<use href="#f33" x="589.77" y="448.79"/>
<use href="#f0" x="369.10" y="454.22"/>
<use href="#f1" x="375.79" y="454.22"/>
<use href="#f5" x="402.53" y="454.22"/>
<use href="#f6" x="409.22" y="454.22"/>
<use href="#f7" x="415.91" y="454.22"/>
<use href="#f11" x="442.66" y="454.22"/>
<use href="#f15" x="469.40" y="454.22"/>
<use href="#f16" x="476.09" y="454.22"/>
<use href="#f18" x="489.47" y="454.22"/>
<use href="#f19" x="496.15" y="454.22"/>
<use href="#f32" x="583.08" y="454.22"/>
<use href="#f33" x="589.77" y="454.22"/>
<use href="#f0" x="369.10" y="459.64"/>
<use href="#f1" x="375.79" y="459.64"/>
<use href="#f5" x="402.53" y="459.64"/>
<use href="#f6" x="409.22" y="459.64"/>
<use href="#f7" x="415.91" y="459.64"/>
<use href="#f11" x="442.66" y="459.64"/>
<use href="#f15" x="469.40" y="459.64"/>
<use href="#f16" x="476.09" y="459.64"/>
<use href="#f0" x="369.10" y="465.06"/>
<use href="#f1" x="375.79" y="465.06"/>
<use href="#f2" x="382.47" y="465.06"/>
<use href="#f5" x="402.53" y="465.06"/>
<use href="#f6" x="409.22" y="465.06"/>
<use href="#f10" x="435.97" y="465.06"/>
<use href="#f11" x="442.66" y="465.06"/>
<use href="#f13" x="456.03" y="465.06"/>
<use href="#f15" x="469.40" y="465.06"/>
<use href="#f16" x="476.09" y="465.06"/>
<use href="#f17" x="482.78" y="465.06"/>
<use href="#f18" x="489.47" y="465.06"/>
<use href="#f19" x="496.15" y="465.06"/>
<use href="#f20" x="502.84" y="465.06"/>
<use href="#f32" x="583.08" y="465.06"/>
<use href="#f33" x="589.77" y="465.06"/>
<use href="#f0" x="369.10" y="470.48"/>
<use href="#f5" x="402.53" y="470.48"/>
<use href="#f6" x="409.22" y="470.48"/>
<use href="#f0" x="369.10" y="475.91"/>
<use href="#f1" x="375.79" y="475.91"/>
<use href="#f5" x="402.53" y="475.91"/>
<use href="#f6" x="409.22" y="475.91"/>
<use href="#f0" x="369.10" y="481.33"/>
<use href="#f1" x="375.79" y="481.33"/>
<use href="#f2" x="382.47" y="481.33"/>
<use href="#f5" x="402.53" y="481.33"/>
<use href="#f6" x="409.22" y="481.33"/>
<use href="#f9" x="429.28" y="481.33"/>
<use href="#f0" x="369.10" y="486.75"/>
<use href="#f1" x="375.79" y="486.75"/>
<use href="#f2" x="382.47" y="486.75"/>
<use href="#f5" x="402.53" y="486.75"/>
<use href="#f6" x="409.22" y="486.75"/>
<use href="#f9" x="429.28" y="486.75"/>
<use href="#f0" x="369.10" y="492.18"/>
<use href="#f1" x="375.79" y="492.18"/>
<use href="#f5" x="402.53" y="492.18"/>
<use href="#f6" x="409.22" y="492.18"/>
<use href="#f18" x="489.47" y="492.18"/>
<use href="#f0" x="369.10" y="497.60"/>
<use href="#f1" x="375.79" y="497.60"/>
<use href="#f5" x="402.53" y="497.60"/>
<use href="#f6" x="409.22" y="497.60"/>
<use href="#f7" x="415.91" y="497.60"/>
<use href="#f10" x="435.97" y="497.60"/>
<use href="#f11" x="442.66" y="497.60"/>
<use href="#f15" x="469.40" y="497.60"/>
<use href="#f16" x="476.09" y="497.60"/>
<use href="#f17" x="482.78" y="497.60"/>
<use href="#f18" x="489.47" y="497.60"/>
<use href="#f19" x="496.15" y="497.60"/>
<use href="#f21" x="509.53" y="497.60"/>
<use href="#f0" x="369.10" y="503.02"/>
<use href="#f1" x="375.79" y="503.02"/>
<use href="#f2" x="382.47" y="503.02"/>
<use href="#f5" x="402.53" y="503.02"/>
<use href="#f6" x="409.22" y="503.02"/>
<use href="#f7" x="415.91" y="503.02"/>
<use href="#f0" x="369.10" y="508.45"/>
<use href="#f1" x="375.79" y="508.45"/>
<use href="#f2" x="382.47" y="508.45"/>
<use href="#f5" x="402.53" y="508.45"/>
<use href="#f6" x="409.22" y="508.45"/>
<use href="#f7" x="415.91" y="508.45"/>
<use href="#f11" x="442.66" y="508.45"/>
<use href="#f12" x="449.34" y="508.45"/>
<use href="#f15" x="469.40" y="508.45"/>
<use href="#f16" x="476.09" y="508.45"/>
<use href="#f18" x="489.47" y="508.45"/>
<use href="#f19" x="496.15" y="508.45"/>
<use href="#f20" x="502.84" y="508.45"/>
<use href="#f0" x="369.10" y="513.87"/>
<use href="#f1" x="375.79" y="513.87"/>
<use href="#f2" x="382.47" y="513.87"/>
<use href="#f5" x="402.53" y="513.87"/>
<use href="#f6" x="409.22" y="513.87"/>
<use href="#f7" x="415.91" y="513.87"/>
<use href="#f11" x="442.66" y="513.87"/>
<use href="#f12" x="449.34" y="513.87"/>
<use href="#f15" x="469.40" y="513.87"/>
<use href="#f0" x="369.10" y="519.29"/>
<use href="#f1" x="375.79" y="519.29"/>
<use href="#f2" x="382.47" y="519.29"/>
<use href="#f5" x="402.53" y="519.29"/>
<use href="#f6" x="409.22" y="519.29"/>
<use href="#f7" x="415.91" y="519.29"/>
<use href="#f10" x="435.97" y="519.29"/>
<use href="#f11" x="442.66" y="519.29"/>
<use href="#f12" x="449.34" y="519.29"/>
<use href="#f0" x="369.10" y="524.72"/>
<use href="#f1" x="375.79" y="524.72"/>
<use href="#f2" x="382.47" y="524.72"/>
<use href="#f5" x="402.53" y="524.72"/>
<use href="#f6" x="409.22" y="524.72"/>
<use href="#f7" x="415.91" y="524.72"/>
<use href="#f11" x="442.66" y="524.72"/>
<use href="#f12" x="449.34" y="524.72"/>
<use href="#f15" x="469.40" y="524.72"/>
<use href="#f16" x="476.09" y="524.72"/>
<use href="#f0" x="369.10" y="530.14"/>
<use href="#f1" x="375.79" y="530.14"/>
<use href="#f3" x="389.16" y="530.14"/>
<use href="#f5" x="402.53" y="530.14"/>
<use href="#f6" x="409.22" y="530.14"/>
<use href="#f7" x="415.91" y="530.14"/>
<use href="#f11" x="442.66" y="530.14"/>
<use href="#f12" x="449.34" y="530.14"/>
<use href="#f15" x="469.40" y="530.14"/>
<use href="#f18" x="489.47" y="530.14"/>
<use href="#f19" x="496.15" y="530.14"/>
<use href="#f20" x="502.84" y="530.14"/>
<use href="#f32" x="583.08" y="530.14"/>
<use href="#f33" x="589.77" y="530.14"/>
<use href="#f0" x="369.10" y="535.56"/>
<use href="#f1" x="375.79" y="535.56"/>
<use href="#f3" x="389.16" y="535.56"/>
<use href="#f5" x="402.53" y="535.56"/>
<use href="#f6" x="409.22" y="535.56"/>
<use href="#f8" x="422.60" y="535.56"/>
<use href="#f10" x="435.97" y="535.56"/>
<use href="#f11" x="442.66" y="535.56"/>
<use href="#f12" x="449.34" y="535.56"/>
<use href="#f15" x="469.40" y="535.56"/>
<use href="#f16" x="476.09" y="535.56"/>
<use href="#f17" x="482.78" y="535.56"/>
<use href="#f19" x="496.15" y="535.56"/>
<use href="#f21" x="509.53" y="535.56"/>
<use href="#f0" x="369.10" y="540.98"/>
<use href="#f1" x="375.79" y="540.98"/>
<use href="#f4" x="395.85" y="540.98"/>
<use href="#f5" x="402.53" y="540.98"/>
<use href="#f6" x="409.22" y="540.98"/>
<use href="#f7" x="415.91" y="540.98"/>
<use href="#f32" x="583.08" y="540.98"/>
<use href="#f34" x="596.46" y="540.98"/>
<use href="#f0" x="369.10" y="546.41"/>
<use href="#f1" x="375.79" y="546.41"/>
<use href="#f2" x="382.47" y="546.41"/>
<use href="#f5" x="402.53" y="546.41"/>
<use href="#f6" x="409.22" y="546.41"/>
<use href="#f7" x="415.91" y="546.41"/>
<use href="#f10" x="435.97" y="546.41"/>
<use href="#f11" x="442.66" y="546.41"/>
<use href="#f12" x="449.34" y="546.41"/>
<use href="#f14" x="462.72" y="546.41"/>
<use href="#f15" x="469.40" y="546.41"/>
<use href="#f16" x="476.09" y="546.41"/>
<use href="#f18" x="489.47" y="546.41"/>
<use href="#f19" x="496.15" y="546.41"/>
<use href="#f0" x="369.10" y="551.83"/>
<use href="#f1" x="375.79" y="551.83"/>
<use href="#f3" x="389.16" y="551.83"/>
<use href="#f5" x="402.53" y="551.83"/>
<use href="#f6" x="409.22" y="551.83"/>
<use href="#f7" x="415.91" y="551.83"/>
<use href="#f11" x="442.66" y="551.83"/>
<use href="#f15" x="469.40" y="551.83"/>
<use href="#f16" x="476.09" y="551.83"/>
<use href="#f18" x="489.47" y="551.83"/>
<use href="#f19" x="496.15" y="551.83"/>
<use href="#f20" x="502.84" y="551.83"/>
<use href="#f28" x="556.33" y="551.83"/>
<use href="#f29" x="563.02" y="551.83"/>
<use href="#f0" x="369.10" y="557.25"/>
<use href="#f1" x="375.79" y="557.25"/>
<use href="#f2" x="382.47" y="557.25"/>
<use href="#f5" x="402.53" y="557.25"/>
<use href="#f6" x="409.22" y="557.25"/>
<use href="#f7" x="415.91" y="557.25"/>
<use href="#f11" x="442.66" y="557.25"/>
<use href="#f18" x="489.47" y="557.25"/>
<use href="#f19" x="496.15" y="557.25"/>
<use href="#f20" x="502.84" y="557.25"/>
<use href="#f28" x="556.33" y="557.25"/>
<use href="#f29" x="563.02" y="557.25"/>
<use href="#f0" x="369.10" y="562.68"/>
<use href="#f1" x="375.79" y="562.68"/>
<use href="#f2" x="382.47" y="562.68"/>
<use href="#f5" x="402.53" y="562.68"/>
<use href="#f6" x="409.22" y="562.68"/>
<use href="#f7" x="415.91" y="562.68"/>
<use href="#f11" x="442.66" y="562.68"/>
<use href="#f18" x="489.47" y="562.68"/>
<use href="#f19" x="496.15" y="562.68"/>
<use href="#f20" x="502.84" y="562.68"/>
<use href="#f28" x="556.33" y="562.68"/>
<use href="#f29" x="563.02" y="562.68"/>
<use href="#f31" x="576.40" y="562.68"/>
<use href="#f32" x="583.08" y="562.68"/>
<use href="#f0" x="369.10" y="568.10"/>
<use href="#f1" x="375.79" y="568.10"/>
<use href="#f2" x="382.47" y="568.10"/>
<use href="#f5" x="402.53" y="568.10"/>
<use href="#f6" x="409.22" y="568.10"/>
<use href="#f7" x="415.91" y="568.10"/>
<use href="#f11" x="442.66" y="568.10"/>
<use href="#f15" x="469.40" y="568.10"/>
<use href="#f16" x="476.09" y="568.10"/>
<use href="#f18" x="489.47" y="568.10"/>
<use href="#f19" x="496.15" y="568.10"/>
<use href="#f20" x="502.84" y="568.10"/>
<use href="#f28" x="556.33" y="568.10"/>
<use href="#f29" x="563.02" y="568.10"/>
<use href="#f31" x="576.40" y="568.10"/>
<use href="#f32" x="583.08" y="568.10"/>
<use href="#f0" x="369.10" y="573.52"/>
<use href="#f1" x="375.79" y="573.52"/>
<use href="#f4" x="395.85" y="573.52"/>
<use href="#f5" x="402.53" y="573.52"/>
<use href="#f6" x="409.22" y="573.52"/>
<use href="#f7" x="415.91" y="573.52"/>
<use href="#f32" x="583.08" y="573.52"/>
<use href="#f34" x="596.46" y="573.52"/>
<use href="#f0" x="369.10" y="578.95"/>
<use href="#f1" x="375.79" y="578.95"/>
<use href="#f2" x="382.47" y="578.95"/>
<use href="#f5" x="402.53" y="578.95"/>
<use href="#f6" x="409.22" y="578.95"/>
<use href="#f8" x="422.60" y="578.95"/>
<use href="#f10" x="435.97" y="578.95"/>
<use href="#f11" x="442.66" y="578.95"/>
<use href="#f0" x="369.10" y="584.37"/>
<use href="#f1" x="375.79" y="584.37"/>
<use href="#f5" x="402.53" y="584.37"/>
<use href="#f6" x="409.22" y="584.37"/>
<use href="#f7" x="415.91" y="584.37"/>
<use href="#f11" x="442.66" y="584.37"/>
<use href="#f19" x="496.15" y="584.37"/>
<use href="#f21" x="509.53" y="584.37"/>
<use href="#f31" x="576.40" y="584.37"/>
<use href="#f0" x="369.10" y="589.79"/>
<use href="#f1" x="375.79" y="589.79"/>
<use href="#f5" x="402.53" y="589.79"/>
<use href="#f6" x="409.22" y="589.79"/>
<use href="#f7" x="415.91" y="589.79"/>
<use href="#f11" x="442.66" y="589.79"/>
<use href="#f18" x="489.47" y="589.79"/>
<use href="#f19" x="496.15" y="589.79"/>
<use href="#f0" x="369.10" y="595.22"/>
<use href="#f1" x="375.79" y="595.22"/>
<use href="#f2" x="382.47" y="595.22"/>
<use href="#f5" x="402.53" y="595.22"/>
<use href="#f6" x="409.22" y="595.22"/>
<use href="#f8" x="422.60" y="595.22"/>
<use href="#f0" x="369.10" y="600.64"/>
<use href="#f1" x="375.79" y="600.64"/>
<use href="#f3" x="389.16" y="600.64"/>
<use href="#f5" x="402.53" y="600.64"/>
<use href="#f6" x="409.22" y="600.64"/>
<use href="#f0" x="369.10" y="606.06"/>
<use href="#f1" x="375.79" y="606.06"/>
<use href="#f2" x="382.47" y="606.06"/>
<use href="#f5" x="402.53" y="606.06"/>
<use href="#f6" x="409.22" y="606.06"/>
<use href="#f7" x="415.91" y="606.06"/>
<use href="#f11" x="442.66" y="606.06"/>
<use href="#f14" x="462.72" y="606.06"/>
<use href="#f18" x="489.47" y="606.06"/>
<use href="#f19" x="496.15" y="606.06"/>
<use href="#f20" x="502.84" y="606.06"/>
<use href="#f22" x="516.21" y="606.06"/>
<use href="#f23" x="522.90" y="606.06"/>
<use href="#f24" x="529.59" y="606.06"/>
<use href="#f25" x="536.27" y="606.06"/>
<use href="#f26" x="542.96" y="606.06"/>
<use href="#f27" x="549.65" y="606.06"/>
<use href="#f29" x="563.02" y="606.06"/>
<use href="#f30" x="569.71" y="606.06"/>
<use href="#f0" x="369.10" y="611.48"/>
<use href="#f1" x="375.79" y="611.48"/>
<use href="#f2" x="382.47" y="611.48"/>
<use href="#f5" x="402.53" y="611.48"/>
<use href="#f6" x="409.22" y="611.48"/>
<use href="#f10" x="435.97" y="611.48"/>
<use href="#f11" x="442.66" y="611.48"/>
<use href="#f13" x="456.03" y="611.48"/>
<use href="#f16" x="476.09" y="611.48"/>
<use href="#f18" x="489.47" y="611.48"/>
<use href="#f19" x="496.15" y="611.48"/>
<use href="#f21" x="509.53" y="611.48"/>
<use href="#f22" x="516.21" y="611.48"/>
<use href="#f23" x="522.90" y="611.48"/>
<use href="#f24" x="529.59" y="611.48"/>
<use href="#f25" x="536.27" y="611.48"/>
<use href="#f26" x="542.96" y="611.48"/>
<use href="#f27" x="549.65" y="611.48"/>
<use href="#f28" x="556.33" y="611.48"/>
<use href="#f29" x="563.02" y="611.48"/>
<use href="#f30" x="569.71" y="611.48"/>
<use href="#f35" x="603.14" y="611.48"/>
<use href="#f36" x="609.83" y="611.48"/>
<use href="#f42" x="649.95" y="611.48"/>
<use href="#f44" x="663.33" y="611.48"/>
<use href="#f0" x="369.10" y="616.91"/>
<use href="#f1" x="375.79" y="616.91"/>
<use href="#f2" x="382.47" y="616.91"/>
<use href="#f5" x="402.53" y="616.91"/>
<use href="#f6" x="409.22" y="616.91"/>
<use href="#f0" x="369.10" y="622.33"/>
<use href="#f1" x="375.79" y="622.33"/>
<use href="#f2" x="382.47" y="622.33"/>
<use href="#f5" x="402.53" y="622.33"/>
<use href="#f6" x="409.22" y="622.33"/>
<use href="#f8" x="422.60" y="622.33"/>
<use href="#f10" x="435.97" y="622.33"/>
<use href="#f11" x="442.66" y="622.33"/>
<use href="#f14" x="462.72" y="622.33"/>
<use href="#f15" x="469.40" y="622.33"/>
<use href="#f16" x="476.09" y="622.33"/>
<use href="#f35" x="603.14" y="622.33"/>
<use href="#f0" x="369.10" y="627.75"/>
<use href="#f1" x="375.79" y="627.75"/>
<use href="#f2" x="382.47" y="627.75"/>
<use href="#f5" x="402.53" y="627.75"/>
<use href="#f6" x="409.22" y="627.75"/>
<use href="#f8" x="422.60" y="627.75"/>
<use href="#f10" x="435.97" y="627.75"/>
<use href="#f11" x="442.66" y="627.75"/>
<use href="#f14" x="462.72" y="627.75"/>
<use href="#f15" x="469.40" y="627.75"/>
<use href="#f16" x="476.09" y="627.75"/>
<use href="#f18" x="489.47" y="627.75"/>
<use href="#f19" x="496.15" y="627.75"/>
<use href="#f20" x="502.84" y="627.75"/>
<use href="#f21" x="509.53" y="627.75"/>
<use href="#f35" x="603.14" y="627.75"/>
<use href="#f0" x="369.10" y="633.18"/>
<use href="#f1" x="375.79" y="633.18"/>
<use href="#f2" x="382.47" y="633.18"/>
<use href="#f5" x="402.53" y="633.18"/>
<use href="#f6" x="409.22" y="633.18"/>
<use href="#f8" x="422.60" y="633.18"/>
<use href="#f10" x="435.97" y="633.18"/>
<use href="#f11" x="442.66" y="633.18"/>
<use href="#f14" x="462.72" y="633.18"/>
<use href="#f15" x="469.40" y="633.18"/>
<use href="#f19" x="496.15" y="633.18"/>
<use href="#f21" x="509.53" y="633.18"/>
<use href="#f35" x="603.14" y="633.18"/>
<use href="#f0" x="369.10" y="638.60"/>
<use href="#f1" x="375.79" y="638.60"/>
<use href="#f2" x="382.47" y="638.60"/>
<use href="#f5" x="402.53" y="638.60"/>
<use href="#f6" x="409.22" y="638.60"/>
<use href="#f8" x="422.60" y="638.60"/>
<use href="#f10" x="435.97" y="638.60"/>
<use href="#f11" x="442.66" y="638.60"/>
<use href="#f14" x="462.72" y="638.60"/>
<use href="#f15" x="469.40" y="638.60"/>
<use href="#f19" x="496.15" y="638.60"/>
<use href="#f21" x="509.53" y="638.60"/>
<use href="#f35" x="603.14" y="638.60"/>
<use href="#f0" x="369.10" y="644.02"/>
<use href="#f1" x="375.79" y="644.02"/>
<use href="#f2" x="382.47" y="644.02"/>
<use href="#f5" x="402.53" y="644.02"/>
<use href="#f6" x="409.22" y="644.02"/>
<use href="#f8" x="422.60" y="644.02"/>
<use href="#f10" x="435.97" y="644.02"/>
<use href="#f11" x="442.66" y="644.02"/>
<use href="#f14" x="462.72" y="644.02"/>
<use href="#f15" x="469.40" y="644.02"/>
<use href="#f19" x="496.15" y="644.02"/>
<use href="#f21" x="509.53" y="644.02"/>
<use href="#f35" x="603.14" y="644.02"/>
<use href="#f0" x="369.10" y="649.45"/>
<use href="#f1" x="375.79" y="649.45"/>
<use href="#f2" x="382.47" y="649.45"/>
<use href="#f5" x="402.53" y="649.45"/>
<use href="#f6" x="409.22" y="649.45"/>
<use href="#f8" x="422.60" y="649.45"/>
<use href="#f0" x="369.10" y="654.87"/>
<use href="#f5" x="402.53" y="654.87"/>
<use href="#f6" x="409.22" y="654.87"/>
<use href="#f0" x="369.10" y="660.29"/>
<use href="#f5" x="402.53" y="660.29"/>
<use href="#f6" x="409.22" y="660.29"/>
<use href="#f9" x="429.28" y="660.29"/>
<use href="#f0" x="369.10" y="665.72"/>
<use href="#f1" x="375.79" y="665.72"/>
<use href="#f2" x="382.47" y="665.72"/>
<use href="#f5" x="402.53" y="665.72"/>
<use href="#f6" x="409.22" y="665.72"/>
<use href="#f7" x="415.91" y="665.72"/>
<use href="#f19" x="496.15" y="665.72"/>
<use href="#f21" x="509.53" y="665.72"/>
<use href="#f0" x="369.10" y="671.14"/>
<use href="#f5" x="402.53" y="671.14"/>
<use href="#f6" x="409.22" y="671.14"/>
<use href="#f7" x="415.91" y="671.14"/>
<use href="#f10" x="435.97" y="671.14"/>
<use href="#f11" x="442.66" y="671.14"/>
<use href="#f12" x="449.34" y="671.14"/>
<use href="#f16" x="476.09" y="671.14"/>
<use href="#f17" x="482.78" y="671.14"/>
<use href="#f0" x="369.10" y="676.56"/>
<use href="#f1" x="375.79" y="676.56"/>
<use href="#f5" x="402.53" y="676.56"/>
<use href="#f6" x="409.22" y="676.56"/>
<use href="#f7" x="415.91" y="676.56"/>
<use href="#f10" x="435.97" y="676.56"/>
<use href="#f15" x="469.40" y="676.56"/>
<use href="#f16" x="476.09" y="676.56"/>
<use href="#f18" x="489.47" y="676.56"/>
<use href="#f19" x="496.15" y="676.56"/>
<use href="#f20" x="502.84" y="676.56"/>
<use href="#f31" x="576.40" y="676.56"/>
<use href="#f35" x="603.14" y="676.56"/>
<use href="#f37" x="616.52" y="676.56"/>
<use href="#f38" x="623.20" y="676.56"/>
<use href="#f0" x="369.10" y="681.98"/>
<use href="#f1" x="375.79" y="681.98"/>
<use href="#f2" x="382.47" y="681.98"/>
<use href="#f5" x="402.53" y="681.98"/>
<use href="#f6" x="409.22" y="681.98"/>
<use href="#f7" x="415.91" y="681.98"/>
<use href="#f10" x="435.97" y="681.98"/>
<use href="#f11" x="442.66" y="681.98"/>
<use href="#f13" x="456.03" y="681.98"/>
<use href="#f19" x="496.15" y="681.98"/>
<use href="#f0" x="369.10" y="687.41"/>
<use href="#f1" x="375.79" y="687.41"/>
<use href="#f3" x="389.16" y="687.41"/>
<use href="#f5" x="402.53" y="687.41"/>
<use href="#f6" x="409.22" y="687.41"/>
<use href="#f15" x="469.40" y="687.41"/>
<use href="#f16" x="476.09" y="687.41"/>
<use href="#f0" x="369.10" y="692.83"/>
<use href="#f1" x="375.79" y="692.83"/>
<use href="#f3" x="389.16" y="692.83"/>
<use href="#f5" x="402.53" y="692.83"/>
<use href="#f6" x="409.22" y="692.83"/>
<use href="#f16" x="476.09" y="692.83"/>
<use href="#f0" x="369.10" y="698.25"/>
<use href="#f1" x="375.79" y="698.25"/>
<use href="#f2" x="382.47" y="698.25"/>
<use href="#f5" x="402.53" y="698.25"/>
<use href="#f6" x="409.22" y="698.25"/>
<use href="#f7" x="415.91" y="698.25"/>
<use href="#f11" x="442.66" y="698.25"/>
<use href="#f16" x="476.09" y="698.25"/>
<use href="#f19" x="496.15" y="698.25"/>
<use href="#f21" x="509.53" y="698.25"/>
<use href="#f0" x="369.10" y="703.68"/>
<use href="#f1" x="375.79" y="703.68"/>
<use href="#f2" x="382.47" y="703.68"/>
<use href="#f5" x="402.53" y="703.68"/>
<use href="#f6" x="409.22" y="703.68"/>
<use href="#f7" x="415.91" y="703.68"/>
<use href="#f11" x="442.66" y="703.68"/>
<use href="#f16" x="476.09" y="703.68"/>
<use href="#f19" x="496.15" y="703.68"/>
<use href="#f21" x="509.53" y="703.68"/>
<use href="#f0" x="369.10" y="709.10"/>
<use href="#f1" x="375.79" y="709.10"/>
<use href="#f5" x="402.53" y="709.10"/>
<use href="#f6" x="409.22" y="709.10"/>
<use href="#f11" x="442.66" y="709.10"/>
<use href="#f0" x="369.10" y="714.52"/>
<use href="#f1" x="375.79" y="714.52"/>
<use href="#f5" x="402.53" y="714.52"/>
<use href="#f6" x="409.22" y="714.52"/>
<use href="#f10" x="435.97" y="714.52"/>
<use href="#f11" x="442.66" y="714.52"/>
<use href="#f12" x="449.34" y="714.52"/>
<use href="#f15" x="469.40" y="714.52"/>
<use href="#f16" x="476.09" y="714.52"/>
<use href="#f0" x="369.10" y="719.95"/>
<use href="#f1" x="375.79" y="719.95"/>
<use href="#f2" x="382.47" y="719.95"/>
<use href="#f5" x="402.53" y="719.95"/>
<use href="#f6" x="409.22" y="719.95"/>
<use href="#f10" x="435.97" y="719.95"/>
<use href="#f11" x="442.66" y="719.95"/>
<use href="#f12" x="449.34" y="719.95"/>
<use href="#f16" x="476.09" y="719.95"/>
<use href="#f17" x="482.78" y="719.95"/>
<use href="#f18" x="489.47" y="719.95"/>
<use href="#f19" x="496.15" y="719.95"/>
<use href="#f20" x="502.84" y="719.95"/>
<use href="#f0" x="369.10" y="725.37"/>
<use href="#f1" x="375.79" y="725.37"/>
<use href="#f2" x="382.47" y="725.37"/>
<use href="#f5" x="402.53" y="725.37"/>
<use href="#f6" x="409.22" y="725.37"/>
<use href="#f10" x="435.97" y="725.37"/>
<use href="#f11" x="442.66" y="725.37"/>
<use href="#f18" x="489.47" y="725.37"/>
<use href="#f19" x="496.15" y="725.37"/>
<use href="#f32" x="583.08" y="725.37"/>
<use href="#f33" x="589.77" y="725.37"/>
<use href="#f0" x="369.10" y="730.79"/>
<use href="#f1" x="375.79" y="730.79"/>
<use href="#f2" x="382.47" y="730.79"/>
<use href="#f5" x="402.53" y="730.79"/>
<use href="#f6" x="409.22" y="730.79"/>
<use href="#f7" x="415.91" y="730.79"/>
<use href="#f10" x="435.97" y="730.79"/>
<use href="#f11" x="442.66" y="730.79"/>
<use href="#f16" x="476.09" y="730.79"/>
<use href="#f17" x="482.78" y="730.79"/>
<use href="#f18" x="489.47" y="730.79"/>
<use href="#f19" x="496.15" y="730.79"/>
<use href="#f21" x="509.53" y="730.79"/>
<use href="#f22" x="516.21" y="730.79"/>
<use href="#f23" x="522.90" y="730.79"/>
<use href="#f24" x="529.59" y="730.79"/>
<use href="#f25" x="536.27" y="730.79"/>
<use href="#f26" x="542.96" y="730.79"/>
<use href="#f27" x="549.65" y="730.79"/>
<use href="#f28" x="556.33" y="730.79"/>
<use href="#f29" x="563.02" y="730.79"/>
<use href="#f30" x="569.71" y="730.79"/>
<use href="#f0" x="369.10" y="736.22"/>
<use href="#f1" x="375.79" y="736.22"/>
<use href="#f2" x="382.47" y="736.22"/>
<use href="#f5" x="402.53" y="736.22"/>
<use href="#f6" x="409.22" y="736.22"/>
<use href="#f7" x="415.91" y="736.22"/>
<use href="#f10" x="435.97" y="736.22"/>
<use href="#f11" x="442.66" y="736.22"/>
<use href="#f13" x="456.03" y="736.22"/>
<use href="#f16" x="476.09" y="736.22"/>
<use href="#f17" x="482.78" y="736.22"/>
<use href="#f18" x="489.47" y="736.22"/>
<use href="#f19" x="496.15" y="736.22"/>
<use href="#f21" x="509.53" y="736.22"/>
<use href="#f0" x="369.10" y="741.64"/>
<use href="#f1" x="375.79" y="741.64"/>
<use href="#f2" x="382.47" y="741.64"/>
<use href="#f5" x="402.53" y="741.64"/>
<use href="#f6" x="409.22" y="741.64"/>
<use href="#f7" x="415.91" y="741.64"/>
<use href="#f11" x="442.66" y="741.64"/>
<use href="#f15" x="469.40" y="741.64"/>
<use href="#f16" x="476.09" y="741.64"/>
<use href="#f17" x="482.78" y="741.64"/>
<use href="#f18" x="489.47" y="741.64"/>
<use href="#f19" x="496.15" y="741.64"/>
<use href="#f20" x="502.84" y="741.64"/>
<use href="#f36" x="609.83" y="741.64"/>
<use href="#f0" x="369.10" y="747.06"/>
<use href="#f1" x="375.79" y="747.06"/>
<use href="#f2" x="382.47" y="747.06"/>
<use href="#f5" x="402.53" y="747.06"/>
<use href="#f6" x="409.22" y="747.06"/>
<use href="#f7" x="415.91" y="747.06"/>
<use href="#f10" x="435.97" y="747.06"/>
<use href="#f11" x="442.66" y="747.06"/>
<use href="#f13" x="456.03" y="747.06"/>
<use href="#f15" x="469.40" y="747.06"/>
<use href="#f16" x="476.09" y="747.06"/>
<use href="#f17" x="482.78" y="747.06"/>
<use href="#f0" x="369.10" y="752.48"/>
<use href="#f1" x="375.79" y="752.48"/>
<use href="#f2" x="382.47" y="752.48"/>
<use href="#f5" x="402.53" y="752.48"/>
<use href="#f6" x="409.22" y="752.48"/>
<use href="#f7" x="415.91" y="752.48"/>
<use href="#f15" x="469.40" y="752.48"/>
<use href="#f0" x="369.10" y="757.91"/>
<use href="#f1" x="375.79" y="757.91"/>
<use href="#f5" x="402.53" y="757.91"/>
<use href="#f6" x="409.22" y="757.91"/>
<use href="#f10" x="435.97" y="757.91"/>
<use href="#f11" x="442.66" y="757.91"/>
<use href="#f13" x="456.03" y="757.91"/>
<use href="#f15" x="469.40" y="757.91"/>
<use href="#f18" x="489.47" y="757.91"/>
<use href="#f19" x="496.15" y="757.91"/>
<use href="#f0" x="369.10" y="763.33"/>
<use href="#f1" x="375.79" y="763.33"/>
<use href="#f2" x="382.47" y="763.33"/>
<use href="#f5" x="402.53" y="763.33"/>
<use href="#f6" x="409.22" y="763.33"/>
<use href="#f11" x="442.66" y="763.33"/>
<use href="#f12" x="449.34" y="763.33"/>
<use href="#f0" x="369.10" y="768.75"/>
<use href="#f1" x="375.79" y="768.75"/>
<use href="#f2" x="382.47" y="768.75"/>
<use href="#f5" x="402.53" y="768.75"/>
<use href="#f6" x="409.22" y="768.75"/>
<use href="#f10" x="435.97" y="768.75"/>
<use href="#f11" x="442.66" y="768.75"/>
<use href="#f19" x="496.15" y="768.75"/>
<use href="#f21" x="509.53" y="768.75"/>
<use href="#f32" x="583.08" y="768.75"/>
<use href="#f0" x="369.10" y="774.18"/>
<use href="#f1" x="375.79" y="774.18"/>
<use href="#f2" x="382.47" y="774.18"/>
<use href="#f5" x="402.53" y="774.18"/>
<use href="#f6" x="409.22" y="774.18"/>
<use href="#f7" x="415.91" y="774.18"/>
<use href="#f11" x="442.66" y="774.18"/>
<use href="#f15" x="469.40" y="774.18"/>
<use href="#f16" x="476.09" y="774.18"/>
<use href="#f18" x="489.47" y="774.18"/>
<use href="#f0" x="369.10" y="779.60"/>
<use href="#f1" x="375.79" y="779.60"/>
<use href="#f5" x="402.53" y="779.60"/>
<use href="#f6" x="409.22" y="779.60"/>
<use href="#f7" x="415.91" y="779.60"/>
<use href="#f37" x="616.52" y="779.60"/>
<use href="#f0" x="369.10" y="785.02"/>
<use href="#f1" x="375.79" y="785.02"/>
<use href="#f5" x="402.53" y="785.02"/>
<use href="#f6" x="409.22" y="785.02"/>
<use href="#f7" x="415.91" y="785.02"/>
<use href="#f18" x="489.47" y="785.02"/>
<use href="#f0" x="369.10" y="790.45"/>
<use href="#f1" x="375.79" y="790.45"/>
<use href="#f2" x="382.47" y="790.45"/>
<use href="#f5" x="402.53" y="790.45"/>
<use href="#f6" x="409.22" y="790.45"/>
<use href="#f11" x="442.66" y="790.45"/>
<use href="#f12" x="449.34" y="790.45"/>
<use href="#f15" x="469.40" y="790.45"/>
<use href="#f16" x="476.09" y="790.45"/>
<use href="#f18" x="489.47" y="790.45"/>
<use href="#f19" x="496.15" y="790.45"/>
<use href="#f21" x="509.53" y="790.45"/>
<use href="#f39" x="629.89" y="790.45"/>
<use href="#f40" x="636.58" y="790.45"/>
<use href="#f0" x="369.10" y="795.87"/>
<use href="#f1" x="375.79" y="795.87"/>
<use href="#f2" x="382.47" y="795.87"/>
<use href="#f5" x="402.53" y="795.87"/>
<use href="#f6" x="409.22" y="795.87"/>
<use href="#f11" x="442.66" y="795.87"/>
<use href="#f12" x="449.34" y="795.87"/>
<use href="#f16" x="476.09" y="795.87"/>
<use href="#f19" x="496.15" y="795.87"/>
<use href="#f21" x="509.53" y="795.87"/>
<use href="#f0" x="369.10" y="801.29"/>
<use href="#f1" x="375.79" y="801.29"/>
<use href="#f2" x="382.47" y="801.29"/>
<use href="#f5" x="402.53" y="801.29"/>
<use href="#f6" x="409.22" y="801.29"/>
<use href="#f11" x="442.66" y="801.29"/>
<use href="#f12" x="449.34" y="801.29"/>
<use href="#f15" x="469.40" y="801.29"/>
<use href="#f0" x="369.10" y="806.72"/>
<use href="#f1" x="375.79" y="806.72"/>
<use href="#f2" x="382.47" y="806.72"/>
<use href="#f5" x="402.53" y="806.72"/>
<use href="#f6" x="409.22" y="806.72"/>
<use href="#f11" x="442.66" y="806.72"/>
<use href="#f12" x="449.34" y="806.72"/>
<use href="#f0" x="369.10" y="812.14"/>
<use href="#f1" x="375.79" y="812.14"/>
<use href="#f2" x="382.47" y="812.14"/>
<use href="#f5" x="402.53" y="812.14"/>
<use href="#f6" x="409.22" y="812.14"/>
<use href="#f10" x="435.97" y="812.14"/>
<use href="#f11" x="442.66" y="812.14"/>
<use href="#f13" x="456.03" y="812.14"/>
<use href="#f15" x="469.40" y="812.14"/>
<use href="#f16" x="476.09" y="812.14"/>
<use href="#f18" x="489.47" y="812.14"/>
<use href="#f19" x="496.15" y="812.14"/>
<use href="#f20" x="502.84" y="812.14"/>
<use href="#f0" x="369.10" y="817.56"/>
<use href="#f1" x="375.79" y="817.56"/>
<use href="#f2" x="382.47" y="817.56"/>
<use href="#f5" x="402.53" y="817.56"/>
<use href="#f6" x="409.22" y="817.56"/>
<use href="#f9" x="429.28" y="817.56"/>
<use href="#f10" x="435.97" y="817.56"/>
<use href="#f11" x="442.66" y="817.56"/>
<use href="#f13" x="456.03" y="817.56"/>
<use href="#f15" x="469.40" y="817.56"/>
<use href="#f16" x="476.09" y="817.56"/>
<use href="#f17" x="482.78" y="817.56"/>
<use href="#f18" x="489.47" y="817.56"/>
<use href="#f19" x="496.15" y="817.56"/>
<use href="#f20" x="502.84" y="817.56"/>
<use href="#f31" x="576.40" y="817.56"/>
<use href="#f37" x="616.52" y="817.56"/>
<use href="#f0" x="369.10" y="822.98"/>
<use href="#f1" x="375.79" y="822.98"/>
<use href="#f2" x="382.47" y="822.98"/>
<use href="#f5" x="402.53" y="822.98"/>
<use href="#f6" x="409.22" y="822.98"/>
<use href="#f9" x="429.28" y="822.98"/>
<use href="#f11" x="442.66" y="822.98"/>
<use href="#f12" x="449.34" y="822.98"/>
<use href="#f18" x="489.47" y="822.98"/>
<use href="#f19" x="496.15" y="822.98"/>
<use href="#f20" x="502.84" y="822.98"/>
<use href="#f0" x="369.10" y="828.41"/>
<use href="#f1" x="375.79" y="828.41"/>
<use href="#f2" x="382.47" y="828.41"/>
<use href="#f5" x="402.53" y="828.41"/>
<use href="#f6" x="409.22" y="828.41"/>
<use href="#f7" x="415.91" y="828.41"/>
<use href="#f10" x="435.97" y="828.41"/>
<use href="#f11" x="442.66" y="828.41"/>
<use href="#f13" x="456.03" y="828.41"/>
<use href="#f15" x="469.40" y="828.41"/>
<use href="#f16" x="476.09" y="828.41"/>
<use href="#f18" x="489.47" y="828.41"/>
<use href="#f19" x="496.15" y="828.41"/>
<use href="#f20" x="502.84" y="828.41"/>
<use href="#f22" x="516.21" y="828.41"/>
<use href="#f23" x="522.90" y="828.41"/>
<use href="#f24" x="529.59" y="828.41"/>
<use href="#f25" x="536.27" y="828.41"/>
<use href="#f26" x="542.96" y="828.41"/>
<use href="#f27" x="549.65" y="828.41"/>
<use href="#f28" x="556.33" y="828.41"/>
<use href="#f29" x="563.02" y="828.41"/>
<use href="#f30" x="569.71" y="828.41"/>
<use href="#f31" x="576.40" y="828.41"/>
<use href="#f32" x="583.08" y="828.41"/>
<use href="#f33" x="589.77" y="828.41"/>
<use href="#f35" x="603.14" y="828.41"/>
<use href="#f0" x="369.10" y="833.83"/>
<use href="#f1" x="375.79" y="833.83"/>
<use href="#f2" x="382.47" y="833.83"/>
<use href="#f5" x="402.53" y="833.83"/>
<use href="#f6" x="409.22" y="833.83"/>
<use href="#f7" x="415.91" y="833.83"/>
<use href="#f10" x="435.97" y="833.83"/>
<use href="#f11" x="442.66" y="833.83"/>
<use href="#f13" x="456.03" y="833.83"/>
<use href="#f16" x="476.09" y="833.83"/>
<use href="#f19" x="496.15" y="833.83"/>
<use href="#f22" x="516.21" y="833.83"/>
<use href="#f23" x="522.90" y="833.83"/>
<use href="#f24" x="529.59" y="833.83"/>
<use href="#f25" x="536.27" y="833.83"/>
<use href="#f26" x="542.96" y="833.83"/>
<use href="#f27" x="549.65" y="833.83"/>
<use href="#f28" x="556.33" y="833.83"/>
<use href="#f29" x="563.02" y="833.83"/>
<use href="#f30" x="569.71" y="833.83"/>
<use href="#f0" x="369.10" y="839.25"/>
<use href="#f1" x="375.79" y="839.25"/>
<use href="#f2" x="382.47" y="839.25"/>
<use href="#f5" x="402.53" y="839.25"/>
<use href="#f6" x="409.22" y="839.25"/>
<use href="#f7" x="415.91" y="839.25"/>
<use href="#f10" x="435.97" y="839.25"/>
<use href="#f11" x="442.66" y="839.25"/>
<use href="#f12" x="449.34" y="839.25"/>
<use href="#f15" x="469.40" y="839.25"/>
<use href="#f22" x="516.21" y="839.25"/>
<use href="#f23" x="522.90" y="839.25"/>
<use href="#f24" x="529.59" y="839.25"/>
<use href="#f25" x="536.27" y="839.25"/>
<use href="#f26" x="542.96" y="839.25"/>
<use href="#f27" x="549.65" y="839.25"/>
<use href="#f28" x="556.33" y="839.25"/>
<use href="#f29" x="563.02" y="839.25"/>
<use href="#f30" x="569.71" y="839.25"/>
<use href="#f0" x="369.10" y="844.68"/>
<use href="#f1" x="375.79" y="844.68"/>
<use href="#f2" x="382.47" y="844.68"/>
<use href="#f5" x="402.53" y="844.68"/>
<use href="#f6" x="409.22" y="844.68"/>
<use href="#f7" x="415.91" y="844.68"/>
<use href="#f10" x="435.97" y="844.68"/>
<use href="#f11" x="442.66" y="844.68"/>
<use href="#f13" x="456.03" y="844.68"/>
<use href="#f16" x="476.09" y="844.68"/>
<use href="#f18" x="489.47" y="844.68"/>
<use href="#f19" x="496.15" y="844.68"/>
<use href="#f21" x="509.53" y="844.68"/>
<use href="#f22" x="516.21" y="844.68"/>
<use href="#f23" x="522.90" y="844.68"/>
<use href="#f24" x="529.59" y="844.68"/>
<use href="#f25" x="536.27" y="844.68"/>
<use href="#f26" x="542.96" y="844.68"/>
<use href="#f27" x="549.65" y="844.68"/>
<use href="#f28" x="556.33" y="844.68"/>
<use href="#f29" x="563.02" y="844.68"/>
<use href="#f30" x="569.71" y="844.68"/>
<use href="#f0" x="369.10" y="850.10"/>
<use href="#f1" x="375.79" y="850.10"/>
<use href="#f2" x="382.47" y="850.10"/>
<use href="#f5" x="402.53" y="850.10"/>
<use href="#f6" x="409.22" y="850.10"/>
<use href="#f7" x="415.91" y="850.10"/>
<use href="#f10" x="435.97" y="850.10"/>
<use href="#f11" x="442.66" y="850.10"/>
<use href="#f13" x="456.03" y="850.10"/>
<use href="#f15" x="469.40" y="850.10"/>
<use href="#f16" x="476.09" y="850.10"/>
<use href="#f22" x="516.21" y="850.10"/>
<use href="#f23" x="522.90" y="850.10"/>
<use href="#f24" x="529.59" y="850.10"/>
<use href="#f25" x="536.27" y="850.10"/>
<use href="#f26" x="542.96" y="850.10"/>
<use href="#f27" x="549.65" y="850.10"/>
<use href="#f28" x="556.33" y="850.10"/>
<use href="#f29" x="563.02" y="850.10"/>
<use href="#f30" x="569.71" y="850.10"/>
<use href="#f0" x="369.10" y="855.52"/>
<use href="#f1" x="375.79" y="855.52"/>
<use href="#f2" x="382.47" y="855.52"/>
<use href="#f5" x="402.53" y="855.52"/>
<use href="#f6" x="409.22" y="855.52"/>
<use href="#f7" x="415.91" y="855.52"/>
<use href="#f10" x="435.97" y="855.52"/>
<use href="#f11" x="442.66" y="855.52"/>
<use href="#f13" x="456.03" y="855.52"/>
<use href="#f16" x="476.09" y="855.52"/>
<use href="#f18" x="489.47" y="855.52"/>
<use href="#f19" x="496.15" y="855.52"/>
<use href="#f21" x="509.53" y="855.52"/>
<use href="#f22" x="516.21" y="855.52"/>
<use href="#f23" x="522.90" y="855.52"/>
<use href="#f24" x="529.59" y="855.52"/>
<use href="#f25" x="536.27" y="855.52"/>
<use href="#f26" x="542.96" y="855.52"/>
<use href="#f27" x="549.65" y="855.52"/>
<use href="#f29" x="563.02" y="855.52"/>
<use href="#f30" x="569.71" y="855.52"/>
<use href="#f0" x="369.10" y="860.95"/>
<use href="#f1" x="375.79" y="860.95"/>
<use href="#f2" x="382.47" y="860.95"/>
<use href="#f5" x="402.53" y="860.95"/>
<use href="#f6" x="409.22" y="860.95"/>
<use href="#f7" x="415.91" y="860.95"/>
<use href="#f10" x="435.97" y="860.95"/>
<use href="#f11" x="442.66" y="860.95"/>
<use href="#f13" x="456.03" y="860.95"/>
<use href="#f16" x="476.09" y="860.95"/>
<use href="#f19" x="496.15" y="860.95"/>
<use href="#f21" x="509.53" y="860.95"/>
<use href="#f22" x="516.21" y="860.95"/>
<use href="#f23" x="522.90" y="860.95"/>
<use href="#f24" x="529.59" y="860.95"/>
<use href="#f25" x="536.27" y="860.95"/>
<use href="#f26" x="542.96" y="860.95"/>
<use href="#f27" x="549.65" y="860.95"/>
<use href="#f28" x="556.33" y="860.95"/>
<use href="#f29" x="563.02" y="860.95"/>
<use href="#f30" x="569.71" y="860.95"/>
<use href="#f0" x="369.10" y="866.37"/>
<use href="#f1" x="375.79" y="866.37"/>
<use href="#f2" x="382.47" y="866.37"/>
<use href="#f5" x="402.53" y="866.37"/>
<use href="#f6" x="409.22" y="866.37"/>
<use href="#f7" x="415.91" y="866.37"/>
<use href="#f10" x="435.97" y="866.37"/>
<use href="#f11" x="442.66" y="866.37"/>
<use href="#f13" x="456.03" y="866.37"/>
<use href="#f15" x="469.40" y="866.37"/>
<use href="#f16" x="476.09" y="866.37"/>
<use href="#f18" x="489.47" y="866.37"/>
<use href="#f19" x="496.15" y="866.37"/>
<use href="#f21" x="509.53" y="866.37"/>
<use href="#f22" x="516.21" y="866.37"/>
<use href="#f23" x="522.90" y="866.37"/>
<use href="#f24" x="529.59" y="866.37"/>
<use href="#f25" x="536.27" y="866.37"/>
<use href="#f26" x="542.96" y="866.37"/>
<use href="#f27" x="549.65" y="866.37"/>
<use href="#f28" x="556.33" y="866.37"/>
<use href="#f29" x="563.02" y="866.37"/>
<use href="#f30" x="569.71" y="866.37"/>
<use href="#f0" x="369.10" y="871.79"/>
<use href="#f1" x="375.79" y="871.79"/>
<use href="#f2" x="382.47" y="871.79"/>
<use href="#f5" x="402.53" y="871.79"/>
<use href="#f6" x="409.22" y="871.79"/>
<use href="#f7" x="415.91" y="871.79"/>
<use href="#f10" x="435.97" y="871.79"/>
<use href="#f11" x="442.66" y="871.79"/>
<use href="#f0" x="369.10" y="877.22"/>
<use href="#f5" x="402.53" y="877.22"/>
<use href="#f6" x="409.22" y="877.22"/>
<use href="#f7" x="415.91" y="877.22"/>
<use href="#f10" x="435.97" y="877.22"/>
<use href="#f11" x="442.66" y="877.22"/>
<use href="#f13" x="456.03" y="877.22"/>
<use href="#f0" x="369.10" y="882.64"/>
<use href="#f1" x="375.79" y="882.64"/>
<use href="#f2" x="382.47" y="882.64"/>
<use href="#f4" x="395.85" y="882.64"/>
<use href="#f5" x="402.53" y="882.64"/>
<use href="#f6" x="409.22" y="882.64"/>
<use href="#f7" x="415.91" y="882.64"/>
<use href="#f10" x="435.97" y="882.64"/>
<use href="#f11" x="442.66" y="882.64"/>
<use href="#f12" x="449.34" y="882.64"/>
<use href="#f16" x="476.09" y="882.64"/>
<use href="#f17" x="482.78" y="882.64"/>
<use href="#f19" x="496.15" y="882.64"/>
<use href="#f20" x="502.84" y="882.64"/>
<use href="#f31" x="576.40" y="882.64"/>
<use href="#f32" x="583.08" y="882.64"/>
<use href="#f33" x="589.77" y="882.64"/>
<use href="#f34" x="596.46" y="882.64"/>
<use href="#f36" x="609.83" y="882.64"/>
<use href="#f0" x="369.10" y="888.06"/>
<use href="#f1" x="375.79" y="888.06"/>
<use href="#f2" x="382.47" y="888.06"/>
<use href="#f4" x="395.85" y="888.06"/>
<use href="#f5" x="402.53" y="888.06"/>
<use href="#f6" x="409.22" y="888.06"/>
<use href="#f7" x="415.91" y="888.06"/>
<use href="#f10" x="435.97" y="888.06"/>
<use href="#f11" x="442.66" y="888.06"/>
<use href="#f12" x="449.34" y="888.06"/>
<use href="#f15" x="469.40" y="888.06"/>
<use href="#f16" x="476.09" y="888.06"/>
<use href="#f17" x="482.78" y="888.06"/>
<use href="#f18" x="489.47" y="888.06"/>
<use href="#f19" x="496.15" y="888.06"/>
<use href="#f20" x="502.84" y="888.06"/>
<use href="#f31" x="576.40" y="888.06"/>
<use href="#f32" x="583.08" y="888.06"/>
<use href="#f33" x="589.77" y="888.06"/>
<use href="#f34" x="596.46" y="888.06"/>
<use href="#f35" x="603.14" y="888.06"/>
<use href="#f36" x="609.83" y="888.06"/>
<use href="#f0" x="369.10" y="893.48"/>
<use href="#f1" x="375.79" y="893.48"/>
<use href="#f2" x="382.47" y="893.48"/>
<use href="#f5" x="402.53" y="893.48"/>
<use href="#f6" x="409.22" y="893.48"/>
<use href="#f7" x="415.91" y="893.48"/>
<use href="#f10" x="435.97" y="893.48"/>
<use href="#f11" x="442.66" y="893.48"/>
<use href="#f12" x="449.34" y="893.48"/>
<use href="#f15" x="469.40" y="893.48"/>
<use href="#f16" x="476.09" y="893.48"/>
<use href="#f18" x="489.47" y="893.48"/>
<use href="#f19" x="496.15" y="893.48"/>
<use href="#f32" x="583.08" y="893.48"/>
<use href="#f33" x="589.77" y="893.48"/>
<use href="#f0" x="369.10" y="898.91"/>
<use href="#f1" x="375.79" y="898.91"/>
<use href="#f2" x="382.47" y="898.91"/>
<use href="#f5" x="402.53" y="898.91"/>
<use href="#f6" x="409.22" y="898.91"/>
<use href="#f7" x="415.91" y="898.91"/>
<use href="#f11" x="442.66" y="898.91"/>
<use href="#f14" x="462.72" y="898.91"/>
<use href="#f0" x="369.10" y="904.33"/>
<use href="#f1" x="375.79" y="904.33"/>
<use href="#f2" x="382.47" y="904.33"/>
<use href="#f5" x="402.53" y="904.33"/>
<use href="#f6" x="409.22" y="904.33"/>
<use href="#f7" x="415.91" y="904.33"/>
<use href="#f11" x="442.66" y="904.33"/>
<use href="#f14" x="462.72" y="904.33"/>
<use href="#f0" x="369.10" y="909.75"/>
<use href="#f1" x="375.79" y="909.75"/>
<use href="#f2" x="382.47" y="909.75"/>
<use href="#f5" x="402.53" y="909.75"/>
<use href="#f6" x="409.22" y="909.75"/>
<use href="#f8" x="422.60" y="909.75"/>
<use href="#f18" x="489.47" y="909.75"/>
<use href="#f22" x="516.21" y="909.75"/>
<use href="#f23" x="522.90" y="909.75"/>
<use href="#f24" x="529.59" y="909.75"/>
<use href="#f25" x="536.27" y="909.75"/>
<use href="#f26" x="542.96" y="909.75"/>
<use href="#f27" x="549.65" y="909.75"/>
<use href="#f28" x="556.33" y="909.75"/>
<use href="#f29" x="563.02" y="909.75"/>
<use href="#f30" x="569.71" y="909.75"/>
<use href="#f0" x="369.10" y="915.18"/>
<use href="#f1" x="375.79" y="915.18"/>
<use href="#f2" x="382.47" y="915.18"/>
<use href="#f5" x="402.53" y="915.18"/>
<use href="#f6" x="409.22" y="915.18"/>
<use href="#f7" x="415.91" y="915.18"/>
<use href="#f11" x="442.66" y="915.18"/>
<use href="#f13" x="456.03" y="915.18"/>
<use href="#f15" x="469.40" y="915.18"/>
<use href="#f16" x="476.09" y="915.18"/>
<use href="#f18" x="489.47" y="915.18"/>
<use href="#f19" x="496.15" y="915.18"/>
<use href="#f21" x="509.53" y="915.18"/>
<use href="#f32" x="583.08" y="915.18"/>
<use href="#f33" x="589.77" y="915.18"/>
<use href="#f0" x="369.10" y="920.60"/>
<use href="#f1" x="375.79" y="920.60"/>
<use href="#f3" x="389.16" y="920.60"/>
<use href="#f5" x="402.53" y="920.60"/>
<use href="#f6" x="409.22" y="920.60"/>
<use href="#f7" x="415.91" y="920.60"/>
<use href="#f0" x="369.10" y="926.02"/>
<use href="#f1" x="375.79" y="926.02"/>
<use href="#f4" x="395.85" y="926.02"/>
<use href="#f5" x="402.53" y="926.02"/>
<use href="#f6" x="409.22" y="926.02"/>
<use href="#f7" x="415.91" y="926.02"/>
<use href="#f18" x="489.47" y="926.02"/>
<use href="#f19" x="496.15" y="926.02"/>
<use href="#f20" x="502.84" y="926.02"/>
<use href="#f22" x="516.21" y="926.02"/>
<use href="#f23" x="522.90" y="926.02"/>
<use href="#f24" x="529.59" y="926.02"/>
<use href="#f25" x="536.27" y="926.02"/>
<use href="#f26" x="542.96" y="926.02"/>
<use href="#f27" x="549.65" y="926.02"/>
<use href="#f28" x="556.33" y="926.02"/>
<use href="#f29" x="563.02" y="926.02"/>
<use href="#f30" x="569.71" y="926.02"/>
<use href="#f31" x="576.40" y="926.02"/>
<use href="#f32" x="583.08" y="926.02"/>
<use href="#f34" x="596.46" y="926.02"/>
<use href="#f0" x="369.10" y="931.45"/>
<use href="#f1" x="375.79" y="931.45"/>
<use href="#f2" x="382.47" y="931.45"/>
<use href="#f5" x="402.53" y="931.45"/>
<use href="#f6" x="409.22" y="931.45"/>
<use href="#f7" x="415.91" y="931.45"/>
<use href="#f0" x="369.10" y="936.87"/>
<use href="#f1" x="375.79" y="936.87"/>
<use href="#f2" x="382.47" y="936.87"/>
<use href="#f5" x="402.53" y="936.87"/>
<use href="#f6" x="409.22" y="936.87"/>
<use href="#f7" x="415.91" y="936.87"/>
<use href="#f0" x="369.10" y="942.29"/>
<use href="#f1" x="375.79" y="942.29"/>
<use href="#f2" x="382.47" y="942.29"/>
<use href="#f5" x="402.53" y="942.29"/>
<use href="#f6" x="409.22" y="942.29"/>
<use href="#f7" x="415.91" y="942.29"/>
<use href="#f0" x="369.10" y="947.72"/>
<use href="#f1" x="375.79" y="947.72"/>
<use href="#f2" x="382.47" y="947.72"/>
<use href="#f5" x="402.53" y="947.72"/>
<use href="#f6" x="409.22" y="947.72"/>
<use href="#f7" x="415.91" y="947.72"/>
<use href="#f18" x="489.47" y="947.72"/>
<use href="#f19" x="496.15" y="947.72"/>
<use href="#f32" x="583.08" y="947.72"/>
<use href="#f33" x="589.77" y="947.72"/>
<use href="#f0" x="369.10" y="953.14"/>
<use href="#f1" x="375.79" y="953.14"/>
<use href="#f2" x="382.47" y="953.14"/>
<use href="#f5" x="402.53" y="953.14"/>
<use href="#f6" x="409.22" y="953.14"/>
<use href="#f0" x="369.10" y="958.56"/>
<use href="#f1" x="375.79" y="958.56"/>
<use href="#f3" x="389.16" y="958.56"/>
<use href="#f5" x="402.53" y="958.56"/>
<use href="#f6" x="409.22" y="958.56"/>
<use href="#f7" x="415.91" y="958.56"/>
<use href="#f10" x="435.97" y="958.56"/>
<use href="#f11" x="442.66" y="958.56"/>
<use href="#f13" x="456.03" y="958.56"/>
<use href="#f15" x="469.40" y="958.56"/>
<use href="#f16" x="476.09" y="958.56"/>
<use href="#f18" x="489.47" y="958.56"/>
<use href="#f19" x="496.15" y="958.56"/>
<use href="#f0" x="369.10" y="963.98"/>
<use href="#f1" x="375.79" y="963.98"/>
<use href="#f2" x="382.47" y="963.98"/>
<use href="#f5" x="402.53" y="963.98"/>
<use href="#f11" x="442.66" y="963.98"/>
<use href="#f18" x="489.47" y="963.98"/>
<use href="#f19" x="496.15" y="963.98"/>
<use href="#f21" x="509.53" y="963.98"/>
<use href="#f22" x="516.21" y="963.98"/>
<use href="#f23" x="522.90" y="963.98"/>
<use href="#f24" x="529.59" y="963.98"/>
<use href="#f25" x="536.27" y="963.98"/>
<use href="#f26" x="542.96" y="963.98"/>
<use href="#f27" x="549.65" y="963.98"/>
<use href="#f28" x="556.33" y="963.98"/>
<use href="#f29" x="563.02" y="963.98"/>
<use href="#f30" x="569.71" y="963.98"/>
<use href="#f0" x="369.10" y="969.41"/>
<use href="#f5" x="402.53" y="969.41"/>
<use href="#f6" x="409.22" y="969.41"/>
<use href="#f8" x="422.60" y="969.41"/>
<use href="#f15" x="469.40" y="969.41"/>
<use href="#f16" x="476.09" y="969.41"/>
<use href="#f18" x="489.47" y="969.41"/>
<use href="#f19" x="496.15" y="969.41"/>
<use href="#f0" x="369.10" y="974.83"/>
<use href="#f1" x="375.79" y="974.83"/>
<use href="#f2" x="382.47" y="974.83"/>
<use href="#f5" x="402.53" y="974.83"/>
<use href="#f6" x="409.22" y="974.83"/>
<use href="#f9" x="429.28" y="974.83"/>
<use href="#f10" x="435.97" y="974.83"/>
<use href="#f11" x="442.66" y="974.83"/>
<use href="#f13" x="456.03" y="974.83"/>
<use href="#f15" x="469.40" y="974.83"/>
<use href="#f16" x="476.09" y="974.83"/>
<use href="#f18" x="489.47" y="974.83"/>
<use href="#f19" x="496.15" y="974.83"/>
<use href="#f20" x="502.84" y="974.83"/>
<use href="#f0" x="369.10" y="980.25"/>
<use href="#f1" x="375.79" y="980.25"/>
<use href="#f2" x="382.47" y="980.25"/>
<use href="#f5" x="402.53" y="980.25"/>
<use href="#f6" x="409.22" y="980.25"/>
<use href="#f9" x="429.28" y="980.25"/>
<use href="#f10" x="435.97" y="980.25"/>
<use href="#f11" x="442.66" y="980.25"/>
<use href="#f13" x="456.03" y="980.25"/>
<use href="#f15" x="469.40" y="980.25"/>
<use href="#f16" x="476.09" y="980.25"/>
<use href="#f18" x="489.47" y="980.25"/>
<use href="#f19" x="496.15" y="980.25"/>
<use href="#f20" x="502.84" y="980.25"/>
<use href="#f0" x="369.10" y="985.68"/>
<use href="#f1" x="375.79" y="985.68"/>
<use href="#f5" x="402.53" y="985.68"/>
<use href="#f6" x="409.22" y="985.68"/>
<use href="#f7" x="415.91" y="985.68"/>
<use href="#f10" x="435.97" y="985.68"/>
<use href="#f11" x="442.66" y="985.68"/>
<use href="#f13" x="456.03" y="985.68"/>
<use href="#f18" x="489.47" y="985.68"/>
<use href="#f19" x="496.15" y="985.68"/>
<use href="#f20" x="502.84" y="985.68"/>
<use href="#f0" x="369.10" y="991.10"/>
<use href="#f1" x="375.79" y="991.10"/>
<use href="#f2" x="382.47" y="991.10"/>
<use href="#f5" x="402.53" y="991.10"/>
<use href="#f6" x="409.22" y="991.10"/>
<use href="#f10" x="435.97" y="991.10"/>
<use href="#f11" x="442.66" y="991.10"/>
<use href="#f16" x="476.09" y="991.10"/>
<use href="#f19" x="496.15" y="991.10"/>
<use href="#f21" x="509.53" y="991.10"/>
<use href="#f22" x="516.21" y="991.10"/>
<use href="#f23" x="522.90" y="991.10"/>
<use href="#f24" x="529.59" y="991.10"/>
<use href="#f25" x="536.27" y="991.10"/>
<use href="#f26" x="542.96" y="991.10"/>
<use href="#f27" x="549.65" y="991.10"/>
<use href="#f29" x="563.02" y="991.10"/>
<use href="#f30" x="569.71" y="991.10"/>
<use href="#f0" x="369.10" y="996.52"/>
<use href="#f1" x="375.79" y="996.52"/>
<use href="#f2" x="382.47" y="996.52"/>
<use href="#f5" x="402.53" y="996.52"/>
<use href="#f6" x="409.22" y="996.52"/>
<use href="#f7" x="415.91" y="996.52"/>
<use href="#f10" x="435.97" y="996.52"/>
<use href="#f11" x="442.66" y="996.52"/>
<use href="#f13" x="456.03" y="996.52"/>
<use href="#f15" x="469.40" y="996.52"/>
<use href="#f16" x="476.09" y="996.52"/>
<use href="#f0" x="369.10" y="1001.95"/>
<use href="#f1" x="375.79" y="1001.95"/>
<use href="#f2" x="382.47" y="1001.95"/>
<use href="#f5" x="402.53" y="1001.95"/>
<use href="#f6" x="409.22" y="1001.95"/>
<use href="#f7" x="415.91" y="1001.95"/>
<use href="#f10" x="435.97" y="1001.95"/>
<use href="#f11" x="442.66" y="1001.95"/>
<use href="#f13" x="456.03" y="1001.95"/>
<use href="#f0" x="369.10" y="1007.37"/>
<use href="#f1" x="375.79" y="1007.37"/>
<use href="#f2" x="382.47" y="1007.37"/>
<use href="#f5" x="402.53" y="1007.37"/>
<use href="#f6" x="409.22" y="1007.37"/>
<use href="#f7" x="415.91" y="1007.37"/>
<use href="#f16" x="476.09" y="1007.37"/>
<use href="#f18" x="489.47" y="1007.37"/>
<use href="#f19" x="496.15" y="1007.37"/>
<use href="#f21" x="509.53" y="1007.37"/>
<use href="#f31" x="576.40" y="1007.37"/>
<use href="#f32" x="583.08" y="1007.37"/>
<use href="#f33" x="589.77" y="1007.37"/>
<use href="#f45" x="670.01" y="1007.37"/>
<use href="#f0" x="369.10" y="1012.79"/>
<use href="#f1" x="375.79" y="1012.79"/>
<use href="#f2" x="382.47" y="1012.79"/>
<use href="#f5" x="402.53" y="1012.79"/>
<use href="#f6" x="409.22" y="1012.79"/>
<use href="#f7" x="415.91" y="1012.79"/>
<use href="#f10" x="435.97" y="1012.79"/>
<use href="#f11" x="442.66" y="1012.79"/>
<use href="#f15" x="469.40" y="1012.79"/>
<use href="#f16" x="476.09" y="1012.79"/>
<use href="#f17" x="482.78" y="1012.79"/>
<use href="#f32" x="583.08" y="1012.79"/>
<use href="#f33" x="589.77" y="1012.79"/>
<use href="#f0" x="369.10" y="1018.22"/>
<use href="#f1" x="375.79" y="1018.22"/>
<use href="#f2" x="382.47" y="1018.22"/>
<use href="#f4" x="395.85" y="1018.22"/>
<use href="#f5" x="402.53" y="1018.22"/>
<use href="#f6" x="409.22" y="1018.22"/>
<use href="#f7" x="415.91" y="1018.22"/>
<use href="#f10" x="435.97" y="1018.22"/>
<use href="#f11" x="442.66" y="1018.22"/>
<use href="#f12" x="449.34" y="1018.22"/>
<use href="#f15" x="469.40" y="1018.22"/>
<use href="#f16" x="476.09" y="1018.22"/>
<use href="#f18" x="489.47" y="1018.22"/>
<use href="#f19" x="496.15" y="1018.22"/>
<use href="#f20" x="502.84" y="1018.22"/>
<use href="#f32" x="583.08" y="1018.22"/>
<use href="#f34" x="596.46" y="1018.22"/>
<use href="#f0" x="369.10" y="1023.64"/>
<use href="#f1" x="375.79" y="1023.64"/>
<use href="#f2" x="382.47" y="1023.64"/>
<use href="#f4" x="395.85" y="1023.64"/>
<use href="#f5" x="402.53" y="1023.64"/>
<use href="#f6" x="409.22" y="1023.64"/>
<use href="#f7" x="415.91" y="1023.64"/>
<use href="#f10" x="435.97" y="1023.64"/>
<use href="#f11" x="442.66" y="1023.64"/>
<use href="#f12" x="449.34" y="1023.64"/>
<use href="#f15" x="469.40" y="1023.64"/>
<use href="#f16" x="476.09" y="1023.64"/>
<use href="#f32" x="583.08" y="1023.64"/>
<use href="#f34" x="596.46" y="1023.64"/>
<use href="#f0" x="369.10" y="1029.06"/>
<use href="#f1" x="375.79" y="1029.06"/>
<use href="#f5" x="402.53" y="1029.06"/>
<use href="#f6" x="409.22" y="1029.06"/>
<use href="#f15" x="469.40" y="1029.06"/>
<use href="#f18" x="489.47" y="1029.06"/>
<use href="#f19" x="496.15" y="1029.06"/>
<use href="#f21" x="509.53" y="1029.06"/>
<use href="#f0" x="369.10" y="1034.48"/>
<use href="#f1" x="375.79" y="1034.48"/>
<use href="#f2" x="382.47" y="1034.48"/>
<use href="#f5" x="402.53" y="1034.48"/>
<use href="#f6" x="409.22" y="1034.48"/>
<use href="#f8" x="422.60" y="1034.48"/>
<use href="#f15" x="469.40" y="1034.48"/>
<use href="#f16" x="476.09" y="1034.48"/>
<use href="#f0" x="369.10" y="1039.91"/>
<use href="#f1" x="375.79" y="1039.91"/>
<use href="#f2" x="382.47" y="1039.91"/>
<use href="#f5" x="402.53" y="1039.91"/>
<use href="#f6" x="409.22" y="1039.91"/>
<use href="#f8" x="422.60" y="1039.91"/>
<use href="#f15" x="469.40" y="1039.91"/>
<use href="#f16" x="476.09" y="1039.91"/>
<use href="#f18" x="489.47" y="1039.91"/>
<use href="#f19" x="496.15" y="1039.91"/>
<use href="#f20" x="502.84" y="1039.91"/>
<use href="#f0" x="369.10" y="1045.33"/>
<use href="#f1" x="375.79" y="1045.33"/>
<use href="#f2" x="382.47" y="1045.33"/>
<use href="#f5" x="402.53" y="1045.33"/>
<use href="#f6" x="409.22" y="1045.33"/>
<use href="#f8" x="422.60" y="1045.33"/>
<use href="#f15" x="469.40" y="1045.33"/>
<use href="#f16" x="476.09" y="1045.33"/>
<use href="#f0" x="369.10" y="1050.75"/>
<use href="#f1" x="375.79" y="1050.75"/>
<use href="#f2" x="382.47" y="1050.75"/>
<use href="#f5" x="402.53" y="1050.75"/>
<use href="#f6" x="409.22" y="1050.75"/>
<use href="#f10" x="435.97" y="1050.75"/>
<use href="#f11" x="442.66" y="1050.75"/>
<use href="#f15" x="469.40" y="1050.75"/>
<use href="#f16" x="476.09" y="1050.75"/>
<use href="#f17" x="482.78" y="1050.75"/>
<use href="#f18" x="489.47" y="1050.75"/>
<use href="#f19" x="496.15" y="1050.75"/>
<use href="#f31" x="576.40" y="1050.75"/>
<use href="#f32" x="583.08" y="1050.75"/>
<use href="#f33" x="589.77" y="1050.75"/>
<use href="#f35" x="603.14" y="1050.75"/>
<use href="#f0" x="369.10" y="1056.18"/>
<use href="#f1" x="375.79" y="1056.18"/>
<use href="#f2" x="382.47" y="1056.18"/>
<use href="#f5" x="402.53" y="1056.18"/>
<use href="#f6" x="409.22" y="1056.18"/>
<use href="#f0" x="369.10" y="1061.60"/>
<use href="#f1" x="375.79" y="1061.60"/>
<use href="#f2" x="382.47" y="1061.60"/>
<use href="#f5" x="402.53" y="1061.60"/>
<use href="#f6" x="409.22" y="1061.60"/>
<use href="#f7" x="415.91" y="1061.60"/>
<use href="#f36" x="609.83" y="1061.60"/>
<use href="#f0" x="369.10" y="1067.02"/>
<use href="#f1" x="375.79" y="1067.02"/>
<use href="#f3" x="389.16" y="1067.02"/>
<use href="#f4" x="395.85" y="1067.02"/>
<use href="#f5" x="402.53" y="1067.02"/>
<use href="#f6" x="409.22" y="1067.02"/>
<use href="#f7" x="415.91" y="1067.02"/>
<use href="#f11" x="442.66" y="1067.02"/>
<use href="#f32" x="583.08" y="1067.02"/>
<use href="#f34" x="596.46" y="1067.02"/>
<use href="#f0" x="369.10" y="1072.45"/>
<use href="#f2" x="382.47" y="1072.45"/>
<use href="#f5" x="402.53" y="1072.45"/>
<use href="#f6" x="409.22" y="1072.45"/>
<use href="#f8" x="422.60" y="1072.45"/>
<use href="#f10" x="435.97" y="1072.45"/>
<use href="#f11" x="442.66" y="1072.45"/>
<use href="#f16" x="476.09" y="1072.45"/>
<use href="#f26" x="542.96" y="1072.45"/>
<use href="#f0" x="369.10" y="1077.87"/>
<use href="#f1" x="375.79" y="1077.87"/>
<use href="#f2" x="382.47" y="1077.87"/>
<use href="#f4" x="395.85" y="1077.87"/>
<use href="#f5" x="402.53" y="1077.87"/>
<use href="#f6" x="409.22" y="1077.87"/>
<use href="#f7" x="415.91" y="1077.87"/>
<use href="#f11" x="442.66" y="1077.87"/>
<use href="#f12" x="449.34" y="1077.87"/>
<use href="#f16" x="476.09" y="1077.87"/>
<use href="#f32" x="583.08" y="1077.87"/>
<use href="#f34" x="596.46" y="1077.87"/>
<use href="#f0" x="369.10" y="1083.29"/>
<use href="#f1" x="375.79" y="1083.29"/>
<use href="#f4" x="395.85" y="1083.29"/>
<use href="#f5" x="402.53" y="1083.29"/>
<use href="#f6" x="409.22" y="1083.29"/>
<use href="#f11" x="442.66" y="1083.29"/>
<use href="#f31" x="576.40" y="1083.29"/>
<use href="#f32" x="583.08" y="1083.29"/>
<use href="#f34" x="596.46" y="1083.29"/>
<use href="#f0" x="369.10" y="1088.72"/>
<use href="#f1" x="375.79" y="1088.72"/>
<use href="#f2" x="382.47" y="1088.72"/>
<use href="#f5" x="402.53" y="1088.72"/>
<use href="#f6" x="409.22" y="1088.72"/>
<use href="#f15" x="469.40" y="1088.72"/>
<use href="#f16" x="476.09" y="1088.72"/>
<use href="#f0" x="369.10" y="1094.14"/>
<use href="#f1" x="375.79" y="1094.14"/>
<use href="#f2" x="382.47" y="1094.14"/>
<use href="#f5" x="402.53" y="1094.14"/>
<use href="#f6" x="409.22" y="1094.14"/>
<use href="#f0" x="369.10" y="1099.56"/>
<use href="#f1" x="375.79" y="1099.56"/>
<use href="#f4" x="395.85" y="1099.56"/>
<use href="#f5" x="402.53" y="1099.56"/>
<use href="#f6" x="409.22" y="1099.56"/>
<use href="#f7" x="415.91" y="1099.56"/>
<use href="#f31" x="576.40" y="1099.56"/>
<use href="#f32" x="583.08" y="1099.56"/>
<use href="#f34" x="596.46" y="1099.56"/>
<use href="#f0" x="369.10" y="1104.98"/>
<use href="#f1" x="375.79" y="1104.98"/>
<use href="#f2" x="382.47" y="1104.98"/>
<use href="#f5" x="402.53" y="1104.98"/>
<use href="#f6" x="409.22" y="1104.98"/>
<use href="#f7" x="415.91" y="1104.98"/>
<use href="#f10" x="435.97" y="1104.98"/>
<use href="#f11" x="442.66" y="1104.98"/>
<use href="#f13" x="456.03" y="1104.98"/>
<use href="#f19" x="496.15" y="1104.98"/>
<use href="#f21" x="509.53" y="1104.98"/>
<use href="#f22" x="516.21" y="1104.98"/>
<use href="#f23" x="522.90" y="1104.98"/>
<use href="#f24" x="529.59" y="1104.98"/>
<use href="#f25" x="536.27" y="1104.98"/>
<use href="#f26" x="542.96" y="1104.98"/>
<use href="#f27" x="549.65" y="1104.98"/>
<use href="#f29" x="563.02" y="1104.98"/>
<use href="#f30" x="569.71" y="1104.98"/>
<use href="#f0" x="369.10" y="1110.41"/>
<use href="#f1" x="375.79" y="1110.41"/>
<use href="#f2" x="382.47" y="1110.41"/>
<use href="#f5" x="402.53" y="1110.41"/>
<use href="#f6" x="409.22" y="1110.41"/>
<use href="#f7" x="415.91" y="1110.41"/>
<use href="#f15" x="469.40" y="1110.41"/>
<use href="#f16" x="476.09" y="1110.41"/>
<use href="#f17" x="482.78" y="1110.41"/>
<use href="#f0" x="369.10" y="1115.83"/>
<use href="#f1" x="375.79" y="1115.83"/>
<use href="#f2" x="382.47" y="1115.83"/>
<use href="#f5" x="402.53" y="1115.83"/>
<use href="#f6" x="409.22" y="1115.83"/>
<use href="#f7" x="415.91" y="1115.83"/>
<use href="#f10" x="435.97" y="1115.83"/>
<use href="#f11" x="442.66" y="1115.83"/>
<use href="#f12" x="449.34" y="1115.83"/>
<use href="#f15" x="469.40" y="1115.83"/>
<use href="#f16" x="476.09" y="1115.83"/>
<use href="#f18" x="489.47" y="1115.83"/>
<use href="#f19" x="496.15" y="1115.83"/>
<use href="#f0" x="369.10" y="1121.25"/>
<use href="#f1" x="375.79" y="1121.25"/>
<use href="#f2" x="382.47" y="1121.25"/>
<use href="#f5" x="402.53" y="1121.25"/>
<use href="#f6" x="409.22" y="1121.25"/>
<use href="#f7" x="415.91" y="1121.25"/>
<use href="#f11" x="442.66" y="1121.25"/>
<use href="#f0" x="369.10" y="1126.68"/>
<use href="#f5" x="402.53" y="1126.68"/>
<use href="#f6" x="409.22" y="1126.68"/>
<use href="#f7" x="415.91" y="1126.68"/>
<use href="#f10" x="435.97" y="1126.68"/>
<use href="#f11" x="442.66" y="1126.68"/>
<use href="#f15" x="469.40" y="1126.68"/>
<use href="#f16" x="476.09" y="1126.68"/>
<use href="#f17" x="482.78" y="1126.68"/>
<use href="#f18" x="489.47" y="1126.68"/>
<use href="#f19" x="496.15" y="1126.68"/>
<use href="#f0" x="369.10" y="1132.10"/>
<use href="#f1" x="375.79" y="1132.10"/>
<use href="#f2" x="382.47" y="1132.10"/>
<use href="#f5" x="402.53" y="1132.10"/>
<use href="#f6" x="409.22" y="1132.10"/>
<use href="#f0" x="369.10" y="1137.52"/>
<use href="#f1" x="375.79" y="1137.52"/>
<use href="#f2" x="382.47" y="1137.52"/>
<use href="#f5" x="402.53" y="1137.52"/>
<use href="#f6" x="409.22" y="1137.52"/>
<use href="#f7" x="415.91" y="1137.52"/>
<use href="#f10" x="435.97" y="1137.52"/>
<use href="#f11" x="442.66" y="1137.52"/>
<use href="#f14" x="462.72" y="1137.52"/>
<use href="#f15" x="469.40" y="1137.52"/>
<use href="#f16" x="476.09" y="1137.52"/>
<use href="#f18" x="489.47" y="1137.52"/>
<use href="#f19" x="496.15" y="1137.52"/>
<use href="#f22" x="516.21" y="1137.52"/>
<use href="#f23" x="522.90" y="1137.52"/>
<use href="#f24" x="529.59" y="1137.52"/>
<use href="#f25" x="536.27" y="1137.52"/>
<use href="#f26" x="542.96" y="1137.52"/>
<use href="#f27" x="549.65" y="1137.52"/>
<use href="#f28" x="556.33" y="1137.52"/>
<use href="#f29" x="563.02" y="1137.52"/>
<use href="#f30" x="569.71" y="1137.52"/>
<use href="#f35" x="603.14" y="1137.52"/>
<use href="#f37" x="616.52" y="1137.52"/>
<use href="#f0" x="369.10" y="1142.95"/>
<use href="#f1" x="375.79" y="1142.95"/>
<use href="#f2" x="382.47" y="1142.95"/>
<use href="#f5" x="402.53" y="1142.95"/>
<use href="#f6" x="409.22" y="1142.95"/>
<use href="#f7" x="415.91" y="1142.95"/>
<use href="#f11" x="442.66" y="1142.95"/>
<use href="#f15" x="469.40" y="1142.95"/>
<use href="#f16" x="476.09" y="1142.95"/>
<use href="#f0" x="369.10" y="1148.37"/>
<use href="#f1" x="375.79" y="1148.37"/>
<use href="#f2" x="382.47" y="1148.37"/>
<use href="#f5" x="402.53" y="1148.37"/>
<use href="#f6" x="409.22" y="1148.37"/>
<use href="#f9" x="429.28" y="1148.37"/>
<use href="#f11" x="442.66" y="1148.37"/>
<use href="#f13" x="456.03" y="1148.37"/>
<use href="#f16" x="476.09" y="1148.37"/>
<use href="#f17" x="482.78" y="1148.37"/>
<use href="#f39" x="629.89" y="1148.37"/>
<use href="#f0" x="369.10" y="1153.79"/>
<use href="#f1" x="375.79" y="1153.79"/>
<use href="#f2" x="382.47" y="1153.79"/>
<use href="#f5" x="402.53" y="1153.79"/>
<use href="#f6" x="409.22" y="1153.79"/>
<use href="#f11" x="442.66" y="1153.79"/>
<use href="#f14" x="462.72" y="1153.79"/>
<use href="#f15" x="469.40" y="1153.79"/>
<use href="#f16" x="476.09" y="1153.79"/>
<use href="#f0" x="369.10" y="1159.22"/>
<use href="#f1" x="375.79" y="1159.22"/>
<use href="#f2" x="382.47" y="1159.22"/>
<use href="#f5" x="402.53" y="1159.22"/>
<use href="#f6" x="409.22" y="1159.22"/>
<use href="#f11" x="442.66" y="1159.22"/>
<use href="#f0" x="369.10" y="1164.64"/>
<use href="#f1" x="375.79" y="1164.64"/>
<use href="#f2" x="382.47" y="1164.64"/>
<use href="#f5" x="402.53" y="1164.64"/>
<use href="#f6" x="409.22" y="1164.64"/>
<use href="#f7" x="415.91" y="1164.64"/>
<use href="#f10" x="435.97" y="1164.64"/>
<use href="#f11" x="442.66" y="1164.64"/>
<use href="#f16" x="476.09" y="1164.64"/>
<use href="#f19" x="496.15" y="1164.64"/>
<use href="#f21" x="509.53" y="1164.64"/>
<use href="#f0" x="369.10" y="1170.06"/>
<use href="#f1" x="375.79" y="1170.06"/>
<use href="#f2" x="382.47" y="1170.06"/>
<use href="#f5" x="402.53" y="1170.06"/>
<use href="#f6" x="409.22" y="1170.06"/>
<use href="#f11" x="442.66" y="1170.06"/>
<use href="#f15" x="469.40" y="1170.06"/>
<use href="#f16" x="476.09" y="1170.06"/>
<use href="#f18" x="489.47" y="1170.06"/>
<use href="#f19" x="496.15" y="1170.06"/>
<use href="#f21" x="509.53" y="1170.06"/>
<use href="#f0" x="369.10" y="1175.48"/>
<use href="#f1" x="375.79" y="1175.48"/>
<use href="#f3" x="389.16" y="1175.48"/>
<use href="#f5" x="402.53" y="1175.48"/>
<use href="#f6" x="409.22" y="1175.48"/>
<use href="#f7" x="415.91" y="1175.48"/>
<use href="#f10" x="435.97" y="1175.48"/>
<use href="#f11" x="442.66" y="1175.48"/>
<use href="#f15" x="469.40" y="1175.48"/>
<use href="#f0" x="369.10" y="1180.91"/>
<use href="#f5" x="402.53" y="1180.91"/>
<use href="#f6" x="409.22" y="1180.91"/>
<use href="#f7" x="415.91" y="1180.91"/>
<use href="#f18" x="489.47" y="1180.91"/>
<use href="#f19" x="496.15" y="1180.91"/>
<use href="#f20" x="502.84" y="1180.91"/>
<use href="#f0" x="369.10" y="1186.33"/>
<use href="#f1" x="375.79" y="1186.33"/>
<use href="#f2" x="382.47" y="1186.33"/>
<use href="#f5" x="402.53" y="1186.33"/>
<use href="#f6" x="409.22" y="1186.33"/>
<use href="#f7" x="415.91" y="1186.33"/>
<use href="#f10" x="435.97" y="1186.33"/>
<use href="#f11" x="442.66" y="1186.33"/>
<use href="#f16" x="476.09" y="1186.33"/>
<use href="#f18" x="489.47" y="1186.33"/>
<use href="#f19" x="496.15" y="1186.33"/>
<use href="#f20" x="502.84" y="1186.33"/>
<use href="#f22" x="516.21" y="1186.33"/>
<use href="#f23" x="522.90" y="1186.33"/>
<use href="#f24" x="529.59" y="1186.33"/>
<use href="#f25" x="536.27" y="1186.33"/>
<use href="#f26" x="542.96" y="1186.33"/>
<use href="#f27" x="549.65" y="1186.33"/>
<use href="#f29" x="563.02" y="1186.33"/>
<use href="#f30" x="569.71" y="1186.33"/>
<use href="#f31" x="576.40" y="1186.33"/>
<use href="#f32" x="583.08" y="1186.33"/>
<use href="#f33" x="589.77" y="1186.33"/>
<use href="#f0" x="369.10" y="1191.75"/>
<use href="#f1" x="375.79" y="1191.75"/>
<use href="#f2" x="382.47" y="1191.75"/>
<use href="#f5" x="402.53" y="1191.75"/>
<use href="#f6" x="409.22" y="1191.75"/>
<use href="#f7" x="415.91" y="1191.75"/>
<use href="#f10" x="435.97" y="1191.75"/>
<use href="#f11" x="442.66" y="1191.75"/>
<use href="#f18" x="489.47" y="1191.75"/>
<use href="#f19" x="496.15" y="1191.75"/>
<use href="#f20" x="502.84" y="1191.75"/>
<use href="#f32" x="583.08" y="1191.75"/>
<use href="#f0" x="369.10" y="1197.18"/>
<use href="#f1" x="375.79" y="1197.18"/>
<use href="#f5" x="402.53" y="1197.18"/>
<use href="#f6" x="409.22" y="1197.18"/>
<use href="#f9" x="429.28" y="1197.18"/>
<use href="#f0" x="369.10" y="1202.60"/>
<use href="#f1" x="375.79" y="1202.60"/>
<use href="#f2" x="382.47" y="1202.60"/>
<use href="#f5" x="402.53" y="1202.60"/>
<use href="#f6" x="409.22" y="1202.60"/>
<use href="#f10" x="435.97" y="1202.60"/>
<use href="#f11" x="442.66" y="1202.60"/>
<use href="#f12" x="449.34" y="1202.60"/>
<use href="#f15" x="469.40" y="1202.60"/>
<use href="#f16" x="476.09" y="1202.60"/>
<use href="#f17" x="482.78" y="1202.60"/>
<use href="#f18" x="489.47" y="1202.60"/>
<use href="#f19" x="496.15" y="1202.60"/>
<use href="#f20" x="502.84" y="1202.60"/>
</svg></body></html>
